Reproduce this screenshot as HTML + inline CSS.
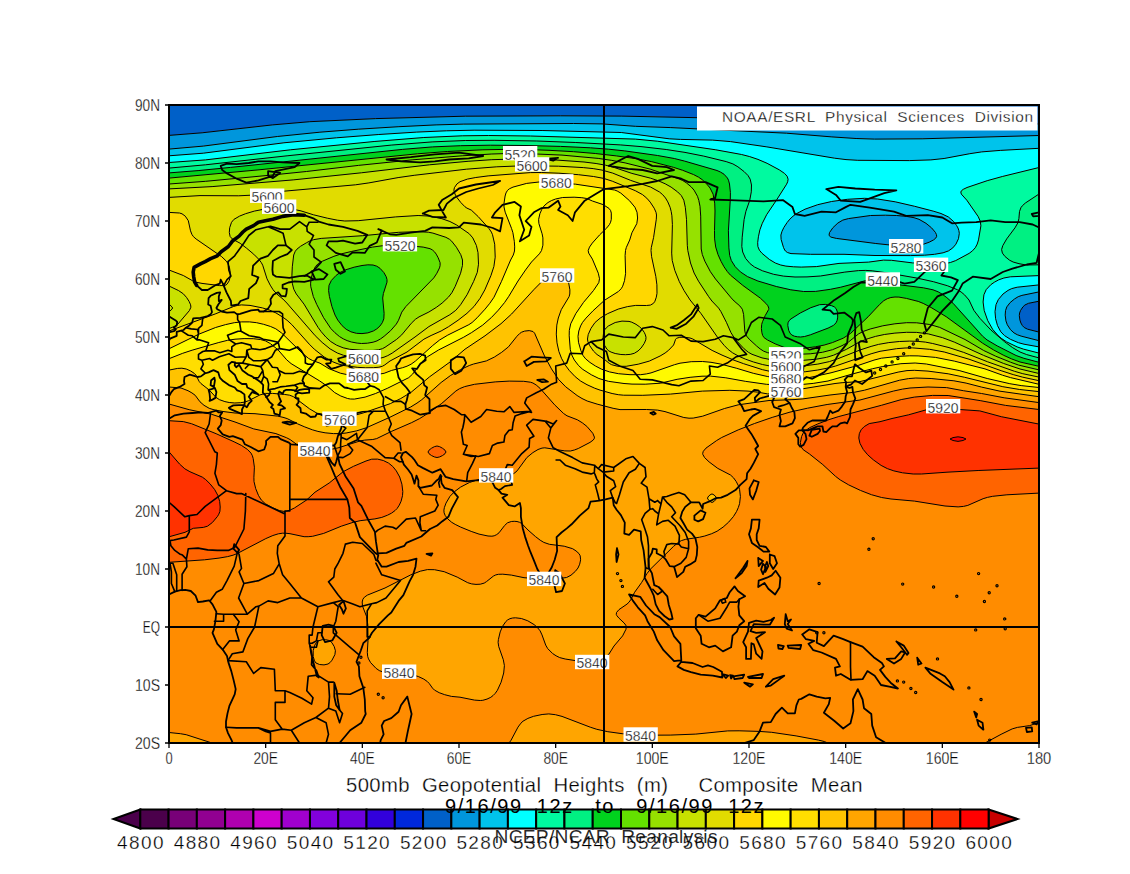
<!DOCTYPE html>
<html><head><meta charset="utf-8"><style>
html,body{margin:0;padding:0;background:#fff;width:1130px;height:874px;overflow:hidden}
svg{display:block}
text{font-family:"Liberation Sans",sans-serif;fill:#000}
.t{stroke:#fff;stroke-width:0.3px}
.t2{fill-opacity:0.85}
</style></head><body>
<svg width="1130" height="874" viewBox="0 0 1130 874">
<rect x="169" y="105" width="870" height="638" fill="rgb(255,140,0)"/>
<path fill="rgb(0,96,200)" fill-rule="evenodd" d="M1039,124 1039,105 169,105 169,135.4 202.1,132.8 272.5,124.9 309.8,121.7 375.7,118.6 465.3,116.2 560.6,115.8 621.2,116.1 702.4,117.8 823.7,119.4ZM1039,332.1 1039,301.2 1028.5,303.3 1024.9,305 1022.9,306.9 1020.6,310.4 1019.6,313 1019.3,315.6 1019.9,320 1020.9,323 1022.4,325.6 1024.2,327.5 1027.6,329.2Z"/>
<path fill="rgb(0,150,220)" fill-rule="evenodd" d="M1039,135.5 1039,124 823.7,119.4 702.4,117.8 621.2,116.1 557.6,115.8 459.3,116.3 372.5,118.7 308.3,121.8 272.5,124.9 202.1,132.8 169,135.4 169,149.1 203.3,146.1 277.3,136.5 319.9,132.2 358.3,129.2 398.9,126.7 436.1,124.9 463.8,124.1 573.4,123.5 602,123.9 635.4,126.3 670.8,127.6 786.5,133.2 831.8,136.9 856.1,138.5 874.5,139.1 922.1,138.8ZM1039,301.2 1039,291.9 1024.6,294.7 1019.4,296.2 1013.4,299.7 1009.1,303.6 1006.8,306.9 1005.9,309.4 1005.2,313.6 1005.4,318 1006.3,322.1 1008,326.1 1010.5,329.7 1012.7,331.9 1016.1,334.1 1019.7,335.7 1039,340.7 1039,332.1 1029,329.6 1024.2,327.5 1022.4,325.6 1020.9,323 1019.9,320 1019.3,315.6 1019.6,313 1020.6,310.4 1022.9,306.9 1024.9,305 1028.5,303.3ZM829,235.4 830.9,237.1 836.3,238.4 875.8,243.5 894.8,245.5 904.7,246 916.5,245.5 923.3,244.3 929.2,242.2 933.6,239.9 935.7,238.2 936.7,236.3 936.4,234.5 935.4,232.4 931.5,227.8 926,223.3 919,219.3 914,217.7 906.5,216.4 896.7,215.5 885.4,215.2 870.5,215.5 848.4,218.6 842.8,220.1 837.9,223 832.9,227.7 829.5,232.6Z"/>
<path fill="rgb(0,195,235)" fill-rule="evenodd" d="M1039,148.3 1039,135.5 922.1,138.8 874.5,139.1 856.1,138.5 831.8,136.9 786.5,133.2 670.8,127.6 635.4,126.3 602,123.9 573.4,123.5 472.7,124 438.7,124.7 389.7,127.2 338.1,130.7 293.6,134.6 266,137.9 205.5,145.9 169,149.1 169,155.8 203.3,153.2 283.9,142.8 336.5,137.8 378.8,134.5 416.7,132.1 446.6,130.8 474.1,130.2 542.1,130.5 621.3,132.5 669.2,138.8 680.4,139.4 712.6,140.1 730.5,141.6 766.9,146.9 834.6,158.2 846,159.6 857.8,160.3 909.4,160.6 930.9,159.9 944.1,158.5 969.8,153.7 981.7,151.9 1000.3,150.4ZM1039,291.9 1039,284.9 1020.1,286.8 1014.3,287.8 1009.4,289.6 1004.2,293 1000,297.3 997,302 995.7,306 995.1,310.2 995.2,316 996.6,322.8 998.6,328.2 1001.6,332.9 1004.5,335.6 1010.4,339.3 1018.4,342.7 1024,344.2 1039,346.9 1039,340.7 1019.7,335.7 1015,333.5 1011.6,330.8 1008.7,327.3 1006.8,323.4 1005.6,319.4 1005.2,315.1 1005.5,310.7 1006.8,306.9 1010.1,302.6 1014.6,298.9 1018.2,296.7 1021.9,295.4ZM780.9,235 781.1,239.4 783.5,247.5 784.7,250 785.5,251.1 787.4,252.5 791,253.6 810.6,254.3 844,254.3 875,255.5 910.3,255.6 924.6,255.2 934.5,254.3 943.1,252.8 948.5,250.9 952.8,247.9 955.9,244.2 958.5,238.7 959.3,233.3 958.9,230.7 958,228 956.5,225.4 953.7,221.6 948.3,216.9 941,213.5 933.9,211.3 914.7,206.3 895.2,201.8 877.6,199 864.4,198.3 847.4,199.3 831.5,201.5 817.7,204.7 805,209.2 796.6,213.6 793,216.2 789.9,219.1 787.2,222.4 783.9,227.4 782,231.3ZM829,235.4 829.5,232.6 832.9,227.7 837.9,223 842.8,220.1 848.4,218.6 870.5,215.5 885.4,215.2 896.7,215.5 906.5,216.4 914,217.7 919,219.3 926,223.3 931.5,227.8 935.4,232.4 936.4,234.5 936.7,236.3 935.7,238.2 933.6,239.9 929.2,242.2 923.3,244.3 916.5,245.5 904.7,246 894.8,245.5 875.8,243.5 836.3,238.4 830.9,237.1Z"/>
<path fill="rgb(0,255,255)" fill-rule="evenodd" d="M1039,167.5 1039,148.3 1000.3,150.4 981.7,151.9 969.8,153.7 944.1,158.5 930.9,159.9 909.4,160.6 856.4,160.2 846,159.6 834.6,158.2 765.4,146.6 739.3,142.8 723,140.9 709.6,140 670.8,138.9 655.8,137.3 626.9,133.1 618.5,132.3 535.6,130.5 485.6,130.1 456.2,130.5 423.8,131.7 381.9,134.3 339.6,137.5 298.4,141.3 270.8,144.4 205.5,152.9 169,155.8 169,162.5 186.9,161.4 212.8,159.1 295.2,149.3 380.4,141 434.8,136.9 456.2,136 478.5,135.6 538.4,136.1 638.2,139.3 661.7,141.9 708.7,148.7 731.8,152.5 747,155.8 762,160.9 768.4,163.9 779.4,169.9 784.5,173.4 787.1,176.2 788.1,179.2 787.7,181.7 786.6,184.2 777,199.3 766.7,214.6 762.3,223.3 760.3,228.5 758.7,235.4 757.8,241.2 757.7,245.3 758.7,249 761,252.3 768.2,258.6 774,262.4 779.5,264.7 784.5,265.9 791.9,266.7 799.7,267 816.4,266.6 839,263.4 868.7,262.1 883.5,260.1 891.5,260.3 912.5,262.9 935.2,264 946.2,263.4 950.4,262.5 955.7,260.6 969.1,253.4 972.5,250.8 975.3,247.7 977.2,244.1 978.5,239.9 980.9,225.8 980.3,221.3 978.2,216.6 966.8,200.2 961.3,194.1 960.8,192 961.6,190.6 963.3,189.3 967,187.5 987.2,180.7 1002.3,176.5ZM780.9,235 782,231.3 783.9,227.4 787.2,222.4 789.9,219.1 793,216.2 796.6,213.6 805,209.2 817.7,204.7 831.5,201.5 847.4,199.3 864.4,198.3 877.6,199 895.2,201.8 914.7,206.3 933.9,211.3 941,213.5 948.3,216.9 953.7,221.6 956.5,225.4 958,228 958.9,230.7 959.3,233.3 958.5,238.7 955.9,244.2 952.8,247.9 948.5,250.9 943.1,252.8 934.5,254.3 924.6,255.2 910.3,255.6 875,255.5 844,254.3 810.6,254.3 791,253.6 787.4,252.5 785.5,251.1 784.7,250 783.5,247.5 781.1,239.4ZM1039,284.9 1039,275.6 1013.2,276.6 1007.6,277.2 1002.7,278.3 997.2,280.6 993.1,283 989.7,285.7 986.9,288.6 984.8,292.1 983.9,294.8 983.1,302 984.2,310.5 987.7,320.5 992.7,329.4 998.5,336 1001.7,338.6 1006.5,341.8 1017.1,346.9 1023.7,349.2 1039,353.1 1039,346.9 1024,344.2 1018.4,342.7 1009.2,338.6 1003.4,334.8 1000,330.7 997.5,325.6 995.6,318.7 995,311.7 996,304.6 998.3,299.6 1003,294 1008,290.4 1011.7,288.6 1017.2,287.2Z"/>
<path fill="rgb(0,250,160)" fill-rule="evenodd" d="M1039,194 1039,167.5 988.4,180.3 968.5,187 962.4,190 960.8,192 961.3,194.1 966.8,200.2 975.7,212.7 979.5,219.1 980.3,221.3 980.9,224.4 980.1,231.5 978.9,238.4 977.7,242.7 976,246.6 973.5,249.8 970.3,252.6 965.4,255.6 958.2,259.5 951.8,262.1 943.7,263.7 932.2,264 911,262.8 891.5,260.3 885,260 868.7,262.1 839,263.4 814.9,266.8 796.6,267 788.8,266.5 783.2,265.6 778,264.2 774,262.4 768.2,258.6 761,252.3 758.7,249 757.7,245.3 757.8,241.2 758.7,235.4 760.3,228.5 762.3,223.3 766.7,214.6 777,199.3 786.6,184.2 787.7,181.7 788.1,179.2 787.1,176.2 784.5,173.4 779.4,169.9 767.1,163.3 758,159.4 749.7,156.6 741.6,154.5 717.2,150 657.3,141.2 635.4,139.1 530.6,136 488.4,135.5 462.3,135.8 423.8,137.5 374.1,141.5 290.4,149.8 205.5,159.9 169,162.5 169,168.1 205.5,164.8 288.7,155.7 395.8,144.7 437.4,141.5 475.6,140.3 506.9,140.4 544.6,141.2 583.1,142.8 624.5,145.1 645.4,147 669.2,149.9 688.1,153 706.7,156.8 727.6,162 734.2,164.6 740.4,168.6 745.2,172.6 748,175.5 750.2,179.2 751.5,185 751.3,191.8 749.7,200.5 745.9,211.3 744.1,219.6 742.2,237.2 741.8,246.5 742.7,252 745.6,258.4 750.1,263.7 754.5,267 762.5,270.8 773.6,274.3 783.4,276.1 795,277 807,276.9 820.5,276 844.8,272.1 858.5,270.6 865.8,270.4 872.2,270.8 888,273 917.6,278.2 933.4,281.7 947.3,285.7 957.6,289.8 961.1,292 964.5,294.8 969,300 973.9,310.4 979.9,318.3 991,330.1 1004.4,341.6 1012.7,347.7 1020,352 1026.7,354.6 1039,357.9 1039,353.1 1023.7,349.2 1015.8,346.3 1005.3,341 1000.6,337.8 997.4,335 991.9,328.1 987.1,319.2 984.2,310.5 983.1,302 983.9,294.8 986.2,289.6 990.8,284.7 994.4,282.2 998.6,279.9 1003.9,278 1010.4,276.8 1039,275.6 1039,264.8 1026.3,265 1019,263.7 1013.1,262 1009.4,260.1 1004.9,256.4 1002.4,253.1 1001.6,249.5 1002.8,245.6 1006.7,238.9 1015,227.8 1017.9,222.8 1018.9,218.6 1019.5,211.6 1020.9,207.7 1022.4,205.7 1025.4,203Z"/>
<path fill="rgb(0,240,130)" fill-rule="evenodd" d="M1039,264.8 1039,194 1025.4,203 1022.4,205.7 1020.9,207.7 1019.5,211.6 1018.9,218.6 1017.9,222.8 1015,227.8 1006.7,238.9 1002.8,245.6 1001.6,249.5 1002.4,253.1 1004.9,256.4 1009.4,260.1 1013.1,262 1019,263.7 1026.3,265ZM1039,362.3 1039,357.9 1025.4,354.2 1018.8,351.4 1010.3,346 997.7,336.1 988,327.1 978,316 973.1,309.1 969.8,301.2 965.5,295.8 962.3,292.9 958.7,290.5 954.1,288.2 948.7,286.2 934.7,282 919.1,278.5 889.5,273.2 872.2,270.8 865.8,270.4 858.5,270.6 844.8,272.1 820.5,276 807,276.9 795,277 783.4,276.1 773.6,274.3 762.5,270.8 754.5,267 750.1,263.7 745.6,258.4 742.7,252 741.8,246.5 742.2,237.2 744.1,219.6 745.9,211.3 749.7,200.5 751.3,191.8 751.5,185 750.2,179.2 748,175.5 745.2,172.6 740.4,168.6 734.2,164.6 727.6,162 706.7,156.8 688.1,153 669.2,149.9 645.4,147 623.1,145.1 578.7,142.6 538.4,141 495.5,140.3 465.3,140.5 432.1,141.9 391.2,145.1 287.1,155.8 205.5,164.8 169,168.1 169,172.9 196.4,170.7 229,167.6 352.4,154.4 406.8,148.9 438.5,146.6 471.1,145.4 500.7,145.2 533.7,145.6 565.2,146.6 593.1,148 610.3,149.3 626.2,151.1 657.6,155.5 674.3,158.5 684.6,161.1 717,170.5 720.4,172 724,174.2 727.4,178 728.5,180.2 729.5,184 730.4,192.4 730.3,199.4 728.4,230.8 728.9,247.9 729.7,255.4 731.3,260.5 735.2,266.7 740.4,271.9 747.5,276.6 757.9,281 776.3,286.5 790.8,289.8 803.6,291.5 815.7,291.4 830.4,289.3 840.8,287.2 865.8,280.6 870,280 878.8,280.8 901,285 923.4,287.8 933,289.8 938.1,291.8 942.1,294.1 946.9,297.7 953,303.2 982.6,336.2 987,339.9 997.2,345.9 1016.1,355.5 1023.9,358.3ZM788,322.8 787.8,325.5 788.7,330.3 790,333.1 791.8,335 794.4,336.2 797.4,336.8 800.7,337 804.6,336.5 810.4,334.8 828.1,328.1 833.4,325.4 836.1,322.8 837.2,320.2 837.7,317.1 837.5,312.3 836.1,308.6 834.3,306.9 831.7,305.7 825.3,304.4 819.6,304.7 810.8,307.7 800.3,313 791,318.9 789.1,320.7Z"/>
<path fill="rgb(0,210,30)" fill-rule="evenodd" d="M1039,366.3 1039,362.3 1023.9,358.3 1016.1,355.5 995.9,345.2 986,339.2 981.6,335.1 977,329.6 953,303.2 946.9,297.7 942.1,294.1 938.1,291.8 933,289.8 923.4,287.8 901,285 878.8,280.8 870,280 865.8,280.6 840.8,287.2 830.4,289.3 815.7,291.4 803.6,291.5 790.8,289.8 774.9,286.1 756.5,280.5 751.2,278.4 746.3,276 740.4,271.9 735.2,266.7 731.3,260.5 729.7,255.4 728.9,247.9 728.4,230.8 730.3,199.4 730.4,192.4 729.5,184 728.5,180.2 727.4,178 724,174.2 720.4,172 717,170.5 684.6,161.1 674.3,158.5 657.6,155.5 624.8,150.9 608.7,149.2 590.4,147.8 560.5,146.4 526,145.5 490.3,145.2 460.7,145.7 432.5,146.9 402.3,149.4 230.6,167.4 198.1,170.6 169,172.9 169,178.1 255.5,170.2 419,153.6 456.3,151 493.3,149.5 514,149.3 533.6,149.7 556.8,150.7 579.6,152.2 600.7,154.1 620.9,156.5 638.4,159.1 653.1,162 675.1,167.8 683.9,170.8 694.9,175.2 699.8,177.9 704.3,181.5 708.4,185.8 710.8,189.2 712.1,191.7 713.5,195.5 714.8,204.2 715,211 714.5,237.6 715.7,247 717.5,253.3 720.3,259.9 723.2,265.4 726.5,270.5 729.3,274 733.7,278.2 742.8,285.4 760.3,298.1 765.9,303.4 767.9,305.8 768.8,308.2 768.7,309.4 765.2,315.6 762.5,321.7 761.7,324.3 761.4,328.4 761.9,332.8 762.7,335.5 764.1,337.7 767.7,340.1 775.1,343.8 783.7,347.2 789,348.8 793,349.2 799.9,348.8 815.3,346.8 824.1,345.1 832.4,342.6 843.2,338.2 850.5,333.5 868.1,316.8 879.7,304.4 883.8,300.7 887.3,298.7 890.9,297.5 895,297 898.9,297.1 906.4,298.4 918.2,301.4 923.2,303.4 931.1,307.5 946.2,316.7 982.6,343.2 993.7,350 1003.8,355.4 1011.8,359 1020,362ZM788,322.8 789.1,320.7 791,318.9 800.3,313 810.8,307.7 819.6,304.7 825.3,304.4 831.7,305.7 834.3,306.9 836.1,308.6 837.5,312.3 837.7,317.1 837.2,320.2 836.1,322.8 833.4,325.4 828.1,328.1 810.4,334.8 804.6,336.5 800.7,337 797.4,336.8 794.4,336.2 791.8,335 790,333.1 788.7,330.3 787.8,325.5ZM346,269.7 340.5,272.2 336.1,275.4 331.4,280.4 329,285.3 328.6,290.6 329.4,296.4 331.9,306.5 335,315 337.7,320 342.1,325.7 346.2,329.3 350.9,331.8 356.4,333.3 362,333.6 367.8,332.9 373.3,331 376.8,328.9 379.9,326.1 382.3,322.7 383.8,318.9 384.1,313.4 382.7,298 383.4,293.5 387,282.1 387,279.6 386.2,276.7 383.9,272.6 380,268.3 376.8,266.2 373,265 367.9,264.8 362,265.5 354.1,267.2Z"/>
<path fill="rgb(100,225,0)" fill-rule="evenodd" d="M1039,369.9 1039,366.3 1024.2,363.2 1015.8,360.6 1005,356 992.4,349.3 978,340.1 943.9,315.2 927,305.3 921,302.4 917,301 904.9,298.1 898.9,297.1 895,297 890.9,297.5 887.3,298.7 883.8,300.7 879.7,304.4 868.1,316.8 850.5,333.5 843.2,338.2 832.4,342.6 824.1,345.1 815.3,346.8 799.9,348.8 793,349.2 789,348.8 783.7,347.2 775.1,343.8 767.7,340.1 764.1,337.7 762.7,335.5 761.9,332.8 761.4,328.4 761.7,324.3 762.5,321.7 765.2,315.6 768.7,309.4 768.8,308.2 767.9,305.8 765.9,303.4 760.3,298.1 742.8,285.4 733.7,278.2 729.3,274 726.5,270.5 723.2,265.4 720.3,259.9 717.5,253.3 715.7,247 714.5,237.6 715,211 714.8,204.2 713.5,195.5 712.1,191.7 710.8,189.2 708.4,185.8 704.3,181.5 699.8,177.9 694.9,175.2 683.9,170.8 675.1,167.8 653.1,162 637,158.9 617.9,156.1 596.6,153.7 573.6,151.7 549,150.3 526,149.5 505.1,149.4 482.9,149.8 447.4,151.5 417.4,153.8 257.1,170 169,178.1 169,184 191.4,182.5 287.4,173.5 356.9,165.5 412.9,159.8 468.1,155.4 500.7,153.7 532.1,153.6 569.7,155.6 602,158.9 614.9,160.9 627.9,163.5 651.6,169.6 680.2,179.4 685,181.9 688.7,184.7 692,187.8 694.8,191.3 698,197.6 700,206.3 700.7,216.1 701.2,249 702.3,254.5 704.8,261.1 710.4,271.7 715.5,279 731.2,297.9 734.1,301 739.8,305.9 742.3,309.2 743.6,314.4 744.8,331.1 745.4,333.6 746.5,336 749.2,339.2 756.6,346 760.1,348.9 763.7,351.2 767.7,352.7 771.6,353.4 786,353.6 798.5,354.3 810.2,353.8 822.4,352.3 832.5,349.7 842,345.7 848.3,342.2 858.7,333.8 863.6,331.3 870.2,329 882.8,325.8 894.9,323.8 906.6,322.7 916.7,322.8 929.8,324.5 939.7,327.4 965,339.5 983.7,350.5 995.7,356.2 1010.5,362.2 1018.6,365.1ZM382.8,245.7 372.4,247.1 351.2,251.5 341.6,253.8 333.9,256.3 322.2,261.3 318.3,263.5 315.4,266.6 312.8,272 310.9,279.6 310.6,283.9 310.8,286.8 313.3,296.5 316.8,304.6 323.6,317.7 330.8,328.5 334.9,332.7 339.4,336.5 343.2,338.8 347.1,340.6 351.4,342 357.2,343.1 361.5,343.5 367.4,343.2 373.1,342.2 377,340.9 380.7,338.8 384.1,336.3 390.6,330.7 396.3,324.1 398.5,320.3 401.8,312.1 405.8,306.6 433.8,277.9 436.9,273.2 439.5,267.9 440.1,265.5 440.1,262.7 438.2,257.8 436.2,254.1 434.4,251.7 432.3,249.9 430.1,248.7 423.2,247.1 408.7,245.7 394.7,245.3ZM346,269.7 354.1,267.2 362,265.5 367.9,264.8 373,265 376.8,266.2 380,268.3 383.9,272.6 386.2,276.7 387,279.6 387,282.1 383.4,293.5 382.7,298 384.1,313.4 383.8,318.9 382.3,322.7 379.9,326.1 376.8,328.9 373.3,331 367.8,332.9 362,333.6 356.4,333.3 350.9,331.8 346.2,329.3 342.1,325.7 337.7,320 335,315 331.9,306.5 329.4,296.4 328.6,290.6 329,285.3 331.4,280.4 336.1,275.4 340.5,272.2Z"/>
<path fill="rgb(150,225,0)" fill-rule="evenodd" d="M1039,373.5 1039,369.9 1018.6,365.1 1010.5,362.2 995.7,356.2 983.7,350.5 965,339.5 941,327.9 931.2,324.8 918.1,322.9 908.1,322.7 894.9,323.8 882.8,325.8 870.2,329 863.6,331.3 858.7,333.8 848.3,342.2 842,345.7 832.5,349.7 822.4,352.3 810.2,353.8 798.5,354.3 786,353.6 771.6,353.4 767.7,352.7 763.7,351.2 760.1,348.9 756.6,346 749.2,339.2 746.5,336 745.4,333.6 744.8,331.1 743.6,314.4 742.3,309.2 739.8,305.9 734.1,301 731.2,297.9 715.5,279 710.4,271.7 704.8,261.1 702.3,254.5 701.2,249 700.7,216.1 700,206.3 698,197.6 694.8,191.3 692,187.8 688.7,184.7 685,181.9 680.2,179.4 650.1,169.1 626.5,163.2 613.4,160.6 599.5,158.6 581.7,156.6 562,155.1 524.5,153.5 508.1,153.5 491.8,154 462.2,155.8 412.9,159.8 358.4,165.4 306.4,171.5 270.2,175.2 205.7,181.3 169,184 169,188.9 194.6,187.7 219,186.1 271.9,181.8 315.5,177.8 364.2,172.5 434,164.4 474,160.9 499.2,159.3 526,158.9 557.9,160 585.5,162.2 605.5,165.2 614.6,167.6 631.9,173.4 650.6,178.2 658.4,180.8 665.2,183.8 671.1,187.1 677.6,191.9 681.3,195.6 683.8,200.2 685.3,207.3 686.5,219.3 687.3,245.3 687.8,250.5 690.5,263 694.1,273 698.5,281.2 708.7,296.7 711.9,301 718.6,308.1 720.8,311.4 726.4,322.3 730.9,332.5 733.9,337.3 737.5,341.8 744.1,348.8 748.4,352.3 752,354.3 762,357.9 772.1,359.9 800,360.6 816.3,359.2 826.7,357.3 833.6,355.2 846.3,349.4 860,341.7 868.2,338.6 875.5,336.4 884.3,334.5 894.9,333.1 906.6,332.3 916.7,332.4 928.3,333.9 942.4,337.6 954.3,342.1 983.6,355.4 1003.7,363.5 1020,369ZM310,240.9 300.5,246.3 297,249.1 295.3,251.2 293.7,255 292.3,266.8 291.9,275.7 292.4,283.8 293.8,289.3 296.3,294 304,304.1 318,327.3 321.2,331.7 325.8,337 330.8,341.6 336.6,345.2 343.1,347.8 349.8,349.3 364.5,350.4 373.1,350.4 378.5,349.8 382.4,348.7 385,347.3 396.6,339.4 401.7,334.9 411.3,323.3 415.4,319.3 419,316.9 428.9,312 436.3,307.4 442.1,303.1 448.4,297.2 451.9,292.7 455.2,286.4 460.6,273.2 462.5,265.3 462.5,260 460.8,254.7 456.4,247.2 451.6,241.1 449.5,239.3 445.9,237.3 432.9,233.1 428.3,232.2 417.4,231.7 398.6,232.3 362.7,235.7 321.2,238.4 313.5,239.7ZM382.8,245.7 394.7,245.3 408.7,245.7 423.2,247.1 430.1,248.7 432.3,249.9 434.4,251.7 436.2,254.1 438.2,257.8 440.1,262.7 440.1,265.5 439.5,267.9 436.9,273.2 433.8,277.9 405.8,306.6 401.8,312.1 398.5,320.3 396.3,324.1 390.6,330.7 384.1,336.3 380.7,338.8 377,340.9 373.1,342.2 367.4,343.2 361.5,343.5 357.2,343.1 351.4,342 347.1,340.6 343.2,338.8 339.4,336.5 334.9,332.7 330.8,328.5 323.6,317.7 316.8,304.6 313.3,296.5 310.8,286.8 310.6,283.9 310.9,279.6 312.8,272 315.4,266.6 318.3,263.5 322.2,261.3 333.9,256.3 341.6,253.8 351.2,251.5 372.4,247.1Z"/>
<path fill="rgb(200,225,0)" fill-rule="evenodd" d="M1039,377.1 1039,373.5 1020,369 1003.7,363.5 985,356 957,343.3 946.4,339 938.3,336.4 931.2,334.6 918.1,332.5 908.1,332.3 896.5,333 884.3,334.5 875.5,336.4 868.2,338.6 860,341.7 846.3,349.4 833.6,355.2 826.7,357.3 816.3,359.2 800,360.6 772.1,359.9 762,357.9 752,354.3 748.4,352.3 744.1,348.8 737.5,341.8 733.9,337.3 730.9,332.5 726.4,322.3 720.8,311.4 718.6,308.1 711.9,301 708.7,296.7 698.5,281.2 694.1,273 690.5,263 687.8,250.5 687.3,245.3 686.5,219.3 685.3,207.3 683.8,200.2 681.3,195.6 677.6,191.9 671.1,187.1 665.2,183.8 658.4,180.8 650.6,178.2 631.9,173.4 614.6,167.6 605.5,165.2 596.1,163.5 584,162 553.1,159.8 518.5,158.9 491.8,159.7 468.1,161.3 429.5,164.8 361.4,172.8 293.2,179.9 212.1,186.6 169,188.9 169,197.4 201.3,195.6 247.3,195.5 259.7,194.5 284,191.2 355.6,184.8 368.9,182.9 396.6,177.8 411.3,175.7 463.5,169.5 486.8,167.5 519.1,165.8 550.7,166 580.4,167.3 591.9,168.5 602,170.1 612.7,173.1 630.7,180.4 650.7,187.1 659.5,192 662.7,194.7 665.5,198 667.8,201.9 670.1,207.3 671.2,211.5 671.9,215.8 672.4,224.6 671.7,253.1 672.2,260.4 674.8,270.4 679.3,281.6 684,290.5 690.1,300 701.1,313.7 717.6,337.4 724.1,345.3 728.2,349.5 732.7,352.9 738.7,356.2 745.3,359.1 753.5,362 762.4,364.5 769.3,365.9 776.5,366.4 803,366 817.8,364.1 829.4,361.6 837.4,358.9 860,350 871.1,346.4 878.5,344.4 888.8,342.6 899.4,341.5 909.6,341.1 918.1,341.4 925.4,342.1 932.7,343.5 949,347.6 963.7,352.4 987.6,361.8 1014.5,371.3 1022.8,373.7ZM169,312 169,328.6 174.4,326.4 177.9,324.1 189.4,310.6 190.9,307.2 190.6,304.8 189.1,301.4 186.5,297.4 183.3,293.8 178.6,290.6 169,286 169,304 172.1,307 172.5,308 172.1,309ZM169,304 169,312 172.1,309 172.5,308 172.1,307ZM262,209.6 254.3,211.1 245.6,213.7 239.6,216.1 233.9,219.4 231.5,222.3 229.7,227.7 229.3,232.5 230.1,236.5 232.5,239.1 240.2,243.3 246.7,248.3 253.7,254.2 258.9,259.4 261.3,262.6 262.7,265.2 267,278.8 270.2,285.1 273.1,289.8 276.7,293.9 283,299.1 286.8,303 315.2,335.7 322.1,342.4 330.1,348.9 337.3,353 343.5,355.3 350.1,356.7 359,357.8 368.7,358.5 376.2,358.5 381,358 384,357.2 387.8,355.6 392.2,353.1 415,337 428.9,326.6 449.9,314.7 455.8,310.3 460.6,304.7 467.1,294.7 473.6,281.5 477.3,272.3 478.5,264.2 478,252.6 476.4,245.5 472.8,237.9 469.2,233.7 456.3,224.8 449.9,221.5 441.9,218.7 429.8,216.1 418.1,215.5 395.7,216.9 358.2,220.7 344.8,221 337.5,220.2 327.4,218.2 313.5,214.8 301,210.9 295,209.6 288,208.9 278.7,208.6 269.3,208.8ZM300.5,246.3 310,240.9 313.5,239.7 321.2,238.4 362.7,235.7 398.6,232.3 417.4,231.7 428.3,232.2 432.9,233.1 445.9,237.3 449.5,239.3 451.6,241.1 456.4,247.2 460.8,254.7 462.5,260 462.5,265.3 460.6,273.2 455.2,286.4 451.9,292.7 448.4,297.2 442.1,303.1 436.3,307.4 428.9,312 419,316.9 415.4,319.3 411.3,323.3 401.7,334.9 396.6,339.4 385,347.3 382.4,348.7 378.5,349.8 373.1,350.4 364.5,350.4 349.8,349.3 343.1,347.8 336.6,345.2 330.8,341.6 325.8,337 321.2,331.7 318,327.3 304,304.1 296.3,294 293.8,289.3 292.4,283.8 291.9,275.7 292.3,266.8 293.7,255 295.3,251.2 297,249.1ZM604.6,329.9 603.6,332.6 603.1,337.2 603.5,341.6 604.7,345.6 606.9,349.1 608.8,350.9 611.1,352.1 615.2,353.5 620.9,354.5 625.5,354.7 630.2,354.4 634.3,353.3 638,351 641.1,348 644.2,343.5 645.8,339.8 646,337.3 645.4,334.9 644.2,332.3 641.7,328.8 639.7,326.9 636,324.3 631.8,322.2 629,321.4 622,321.1 615.2,322.5 608.5,325.9 606.3,327.8Z"/>
<path fill="rgb(225,220,0)" fill-rule="evenodd" d="M1039,380.7 1039,377.1 1022.8,373.7 1014.5,371.3 988.9,362.3 969,354.4 955.7,349.7 937,344.4 926.8,342.4 919.6,341.5 911.1,341.1 900.9,341.4 890.3,342.4 880,344.1 871.1,346.4 860,350 837.4,358.9 829.4,361.6 817.8,364.1 803,366 776.5,366.4 769.3,365.9 762.4,364.5 753.5,362 745.3,359.1 738.7,356.2 732.7,352.9 728.2,349.5 724.1,345.3 717.6,337.4 701.1,313.7 690.1,300 684,290.5 679.3,281.6 674.8,270.4 672.2,260.4 671.7,253.1 672.4,224.6 671.9,215.8 671.2,211.5 670.1,207.3 667.8,201.9 665.5,198 662.7,194.7 659.5,192 650.7,187.1 630.7,180.4 612.7,173.1 602,170.1 593.2,168.6 583.3,167.6 558.5,166.2 525.2,165.7 496.8,166.8 466.4,169.2 414.2,175.3 398.1,177.6 368.9,182.9 355.6,184.8 284,191.2 254.9,195 238.7,195.8 200,195.6 169,197.4 169,212.4 179.5,213 182,213.8 185.3,216.2 188.3,220.7 190.5,230.8 191.9,234.4 193.3,236.5 196.1,239 221.6,256.6 224.5,259.1 227.2,262.3 229,266 229.9,269.8 230.3,274.1 229.7,279.4 227.9,283.2 227,284.2 225,285.4 221.2,285.7 203.5,283.6 196.5,282.3 192.7,280.8 183.3,275.5 169,270 169,286 178.6,290.6 183.3,293.8 186.5,297.4 189.1,301.4 190.6,304.8 190.9,307.2 189.4,310.6 178.9,323.2 175.7,325.8 169,328.6 169,331 215.9,313.7 233.5,306.5 237.5,305.4 241.5,304.9 250,305.4 262.4,307.9 269.3,310 275.9,312.9 283,317.3 287.1,320.3 291.8,324.6 309.3,344.2 314.3,349.2 324.2,357 332.8,361.8 338,363.9 343.9,365.5 357.2,367.3 365.6,367.8 373.5,367.7 378.9,367.2 382.5,366.2 384.8,364.9 390,361 407,352 423.9,339.2 431.1,335.5 441.1,331 448.4,326.8 458,320.3 467,313.3 474,306.5 480,298.4 484.8,289.9 490.9,275.7 493.9,266.5 495.2,257.2 494.7,244.2 492.5,234.7 491.4,232.1 489.1,228.7 478.2,216.6 471.3,210.1 466.9,208.1 464.9,206.7 460.8,202.5 457,197.6 455,194.1 453.9,190.2 454.4,187.7 456.9,184 460,181.7 467.4,179.1 475.8,177.5 488.1,175.9 530.3,172.6 541.3,172.5 558.9,173.2 578.5,174.7 593.5,176.5 603.7,178.4 612.3,181.2 635.3,190.7 642.5,194.6 646.8,198.2 650.2,202.1 654.2,208.2 656,212.3 656.5,215 656.3,219.2 653.6,237.4 651.3,247.5 651,250.5 651.6,256.7 655.8,276.4 656.9,284.8 657,293.3 656.3,297.2 654.9,301.3 653.4,303.4 650.4,305.1 646.4,305.5 635.7,305.4 627.5,306.6 618.2,309.1 607.5,313.7 600.3,318 595,322.5 591,328.3 588.2,334.6 587.5,339 587.9,341.7 589.7,345.6 593.4,351 597,354.5 604.2,359.2 609.3,363.4 611.6,364.7 617.8,366.3 626.2,366.3 638.2,364.2 649.3,361.1 660.1,356 665.1,353 668.7,350.2 673.6,345 675.6,339.3 676.5,338.3 679.8,337.3 684.3,337.2 690,338 692.8,339 712.1,350.4 722,355.1 734,360.2 743.6,363.7 762.5,369.7 772,371.8 781.8,372.4 797.1,372.4 805.8,371.7 817.8,370 828,368 835.4,366.1 871.1,353.8 880,351.3 896.5,348.7 905,348 912.5,347.9 929.7,349.3 944.3,352 969,359.2 1001.1,370.7 1013.2,374.6 1022.8,377.2ZM262,209.6 269.3,208.8 278.7,208.6 288,208.9 295,209.6 301,210.9 313.5,214.8 327.4,218.2 337.5,220.2 344.8,221 358.2,220.7 395.7,216.9 418.1,215.5 429.8,216.1 441.9,218.7 449.9,221.5 456.3,224.8 469.2,233.7 472.8,237.9 476.4,245.5 478,252.6 478.5,264.2 477.3,272.3 473.6,281.5 467.1,294.7 460.6,304.7 455.8,310.3 449.9,314.7 428.9,326.6 415,337 392.2,353.1 387.8,355.6 384,357.2 381,358 376.2,358.5 368.7,358.5 359,357.8 350.1,356.7 343.5,355.3 337.3,353 330.1,348.9 322.1,342.4 315.2,335.7 286.8,303 283,299.1 276.7,293.9 273.1,289.8 270.2,285.1 267,278.8 262.7,265.2 261.3,262.6 258.9,259.4 253.7,254.2 246.7,248.3 240.2,243.3 232.5,239.1 230.1,236.5 229.3,232.5 229.7,227.7 231.5,222.3 233.9,219.4 239.6,216.1 245.6,213.7 254.3,211.1ZM604.6,329.9 606.3,327.8 608.5,325.9 615.2,322.5 622,321.1 629,321.4 631.8,322.2 636,324.3 639.7,326.9 641.7,328.8 644.2,332.3 645.4,334.9 646,337.3 645.8,339.8 644.2,343.5 641.1,348 638,351 634.3,353.3 630.2,354.4 625.5,354.7 620.9,354.5 615.2,353.5 611.1,352.1 608.8,350.9 606.9,349.1 604.7,345.6 603.5,341.6 603.1,337.2 603.6,332.6Z"/>
<path fill="rgb(255,215,0)" fill-rule="evenodd" d="M1039,384.3 1039,380.7 1022.8,377.2 1011.8,374.2 999.8,370.2 971.7,360.1 959.7,356.3 937,350.4 926.8,348.9 915.3,348 908.1,347.9 899.4,348.4 888.8,349.7 880,351.3 871.1,353.8 835.4,366.1 826.7,368.3 816.3,370.2 804.4,371.9 795.7,372.5 780.4,372.4 772,371.8 762.5,369.7 743.6,363.7 734,360.2 722,355.1 712.1,350.4 692.8,339 690,338 684.3,337.2 679.8,337.3 676.5,338.3 675.6,339.3 673.6,345 668.7,350.2 665.1,353 660.1,356 649.3,361.1 638.2,364.2 626.2,366.3 617.8,366.3 611.6,364.7 609.3,363.4 604.2,359.2 597,354.5 593.4,351 589.7,345.6 587.9,341.7 587.5,339 588.2,334.6 591,328.3 595,322.5 600.3,318 607.5,313.7 618.2,309.1 627.5,306.6 635.7,305.4 646.4,305.5 650.4,305.1 653.4,303.4 654.9,301.3 656.3,297.2 657,293.3 656.9,284.8 655.8,276.4 651.6,256.7 651,250.5 651.3,247.5 653.6,237.4 656.3,219.2 656.5,215 656,212.3 654.2,208.2 650.2,202.1 646.8,198.2 642.5,194.6 635.3,190.7 612.3,181.2 603.7,178.4 594.9,176.7 580.1,174.9 560.5,173.3 542.6,172.6 530.3,172.6 488.1,175.9 475.8,177.5 467.4,179.1 460,181.7 456.9,184 454.4,187.7 453.9,190.2 455,194.1 457,197.6 460.8,202.5 464.9,206.7 466.9,208.1 471.3,210.1 478.2,216.6 489.1,228.7 491.4,232.1 492.5,234.7 494.7,244.2 495.2,257.2 493.9,266.5 490.9,275.7 484.8,289.9 480,298.4 474,306.5 467,313.3 458,320.3 448.4,326.8 441.1,331 431.1,335.5 423.9,339.2 407,352 390,361 384.8,364.9 382.5,366.2 378.9,367.2 373.5,367.7 365.6,367.8 357.2,367.3 343.9,365.5 338,363.9 332.8,361.8 324.2,357 314.3,349.2 309.3,344.2 291.8,324.6 287.1,320.3 283,317.3 275.9,312.9 269.3,310 262.4,307.9 250,305.4 241.5,304.9 237.5,305.4 233.5,306.5 215.9,313.7 169,331 169,348.8 199.3,334 209.9,329.6 218.5,326.6 230,323.6 238.6,322.1 247,321.8 255.2,322.5 267.8,325.5 273.3,327.6 277,329.5 281.6,333 300.9,351.9 308.5,358.4 312.3,360.4 320,363.2 329,368.7 340.4,373.2 346.5,374.5 354.7,375.2 365.8,375.3 376.3,374.6 384.1,373.3 391.7,370.4 402.6,367.7 407,366.2 411.1,364.2 415.4,361.1 432.7,345.5 439.6,340 447.8,335.1 468.8,324.7 472.1,322.5 477.1,317.8 485.1,309.1 489.8,303.3 494,297.2 501.4,281.6 510.6,260 513.3,255 514.5,251 514.7,246.9 514.3,241.3 512.9,232.7 511.6,228.6 505.2,212.2 504,207 504,203.3 505.1,196 506,192.9 507.5,190.4 509.4,188.8 513,187.1 521.3,184.6 528.1,183.1 540.3,181.9 555,182.3 577.2,184.4 594,187.1 612,189.4 615.9,190.4 622,194 630.5,201.7 634.9,207.2 637,212.2 637.6,218 636.8,223.6 631.9,232.8 629.7,240 626.3,247.5 625.5,250.5 625.1,255.6 625.6,273.3 624.5,280.7 622.7,286.2 621.2,288.7 618.4,291.5 604.6,300.2 592.9,310.9 586,318.1 582.5,322.4 580.6,325.9 578.8,331 578,336.3 578.5,342.3 580.9,350.7 583.2,355.8 585.7,358.9 589.9,362.4 595.6,366.1 601.6,369.2 609.5,371.9 618.4,373.7 630,374.7 640.7,374.7 646.5,373.9 651,372.9 674.5,364.7 680,363.2 691.2,361.7 702.5,361.5 711,362.3 720.8,364.1 736.3,368.2 753.3,373.3 767.8,376.6 783.2,378.6 797.1,378.9 810.2,377.4 831,372.8 858.6,365.3 874,360.1 881.4,358.2 898,356.4 909.6,355.8 918.1,355.9 935.5,357.4 954.3,361.1 985,368.9 1002.5,375.2 1010.5,377.6ZM169,212.4 169,270 182.1,274.9 192.7,280.8 197.8,282.6 203.5,283.6 221.2,285.7 225,285.4 227,284.2 228.6,282.1 229.7,279.4 230.3,274.1 229.9,269.8 229,266 226.4,261.2 221.6,256.6 196.1,239 193.3,236.5 191.9,234.4 190.5,230.8 188.3,220.7 186.2,217.2 184.3,215.3 182,213.8 179.5,213Z"/>
<path fill="rgb(255,250,0)" fill-rule="evenodd" d="M1039,387.5 1039,384.3 1007.8,376.8 982,368 954.3,361.1 942.8,358.6 931.2,356.8 919.6,355.9 911.1,355.8 899.4,356.3 888.8,357.2 881.4,358.2 874,360.1 858.6,365.3 831,372.8 810.2,377.4 797.1,378.9 783.2,378.6 767.8,376.6 753.3,373.3 736.3,368.2 720.8,364.1 711,362.3 702.5,361.5 691.2,361.7 680,363.2 674.5,364.7 651,372.9 646.5,373.9 640.7,374.7 630,374.7 618.4,373.7 609.5,371.9 601.6,369.2 595.6,366.1 589.9,362.4 585.7,358.9 583.2,355.8 580.9,350.7 578.5,342.3 578,336.3 578.8,331 580.6,325.9 582.5,322.4 586,318.1 592.9,310.9 604.6,300.2 618.4,291.5 621.2,288.7 622.7,286.2 624.5,280.7 625.6,273.3 625.1,255.6 625.5,250.5 626.3,247.5 629.7,240 631.9,232.8 636.8,223.6 637.6,218 637,212.2 634.9,207.2 629.5,200.7 620.8,193.1 617.2,191 614.6,190 575.6,184.2 550.3,182.1 539,182 526.7,183.4 513,187.1 509.4,188.8 507.5,190.4 506,192.9 505.1,196 504,203.3 504,207 505.2,212.2 511.6,228.6 512.9,232.7 514.3,241.3 514.7,246.9 514.5,251 513.3,255 510.6,260 501.4,281.6 494,297.2 489.8,303.3 485.1,309.1 477.1,317.8 472.1,322.5 468.8,324.7 447.8,335.1 439.6,340 432.7,345.5 415.4,361.1 411.1,364.2 407,366.2 402.6,367.7 391.7,370.4 384.1,373.3 376.3,374.6 365.8,375.3 354.7,375.2 346.5,374.5 340.4,373.2 329,368.7 320,363.2 312.3,360.4 308.5,358.4 300.9,351.9 281.6,333 275.8,328.8 270.6,326.5 263.6,324.3 256.6,322.7 249.7,321.9 241.4,321.9 234.3,322.7 225.6,324.6 215.6,327.5 199.3,334 169,348.8 169,358.7 182.7,353.3 192.1,350.2 218.8,342.5 227.6,340.3 235,339.2 245.6,338.6 254.8,338.8 261.7,339.8 266.8,341.5 272.6,345.2 278,349.8 287.8,360.8 292.2,364.5 308.3,373.8 320.8,381.6 327.6,386.4 334.7,392.6 339.5,395.4 346.3,398.1 350.3,399 353,399.2 357,398.8 362.4,397.7 372.9,394.5 385,389.4 407.5,378.5 411.8,375 421.9,361.8 427.6,356.7 438.5,350 463.7,337.2 471.4,332.7 482.7,325.1 491.4,317.5 498.3,310.2 504.6,302.5 508.8,296.3 518,281 525.6,269.9 531.5,262 539.4,253.8 541.5,250.6 542.9,245.2 542.9,237.9 542.1,233.8 538.9,223.6 538.6,219.5 539.9,213.7 541.7,209.6 543.2,207.1 545,205 548,202.5 551.6,200.5 555.6,199 559.8,197.9 564.1,197.4 575.8,197.2 581.8,197.7 586.8,198.5 592.4,201 603.1,204.6 609,208.4 610.6,210.5 611.3,213.1 611.3,219.3 610.6,222.2 609.4,224.6 606.8,227.9 599.5,235 592.3,243.1 589.5,247.1 588.2,250.6 588.7,253.1 592.4,259.1 598.3,273.2 599.5,278.7 598.8,282.6 593.5,290.5 583.5,302.4 575.8,313.6 570.7,323.8 569.3,330.4 569.2,335.8 570.3,349.7 571.8,355 574.3,360 578.6,365.6 582.8,369.4 591.4,374.8 598.9,378.5 608.4,381.3 624,383.5 632,384.1 645.2,384.2 660.6,383.2 677.1,379.3 690.1,377.3 702,376.2 710.5,376.1 725.8,377.8 745.3,381.3 766.4,384.3 779.1,385 798.5,384.8 813.2,383.4 828,381 853.1,373.8 872.6,368.7 882.8,366.5 900.9,363.7 915.1,363 926.4,364 959.1,370.5 987.2,378.5 1009.8,383.7 1021.2,385.6Z"/>
<path fill="rgb(255,222,0)" fill-rule="evenodd" d="M1039,391.6 1039,387.5 1021.2,385.6 1009.8,383.7 987.2,378.5 959.1,370.5 926.4,364 915.1,363 900.9,363.7 882.8,366.5 872.6,368.7 853.1,373.8 828,381 813.2,383.4 798.5,384.8 779.1,385 766.4,384.3 745.3,381.3 725.8,377.8 710.5,376.1 702,376.2 690.1,377.3 677.1,379.3 660.6,383.2 645.2,384.2 629.2,384 614.4,382.3 605.6,380.7 597.6,377.9 590.2,374.1 582.8,369.4 578.6,365.6 574.3,360 571.8,355 570.3,349.7 569.2,335.8 569.3,330.4 570.7,323.8 575.8,313.6 583.5,302.4 593.5,290.5 598.8,282.6 599.5,278.7 598.3,273.2 592.4,259.1 588.7,253.1 588.2,250.6 589.5,247.1 592.3,243.1 599.5,235 606.8,227.9 609.4,224.6 610.6,222.2 611.3,219.3 611.3,213.1 610.6,210.5 609,208.4 603.1,204.6 592.4,201 586.8,198.5 581.8,197.7 575.8,197.2 564.1,197.4 559.8,197.9 555.6,199 551.6,200.5 548,202.5 545,205 543.2,207.1 541.7,209.6 539.9,213.7 538.6,219.5 538.9,223.6 542.1,233.8 542.9,237.9 542.9,245.2 541.5,250.6 539.4,253.8 531.5,262 525.6,269.9 518,281 508.8,296.3 504.6,302.5 498.3,310.2 491.4,317.5 482.7,325.1 471.4,332.7 463.7,337.2 438.5,350 427.6,356.7 421.9,361.8 412.7,374 408.7,377.7 387.8,388.1 375.6,393.5 365.1,397.1 354.3,399.1 350.3,399 347.6,398.5 340.8,396 334.7,392.6 327.6,386.4 319.6,380.9 291.1,363.6 286.7,359.8 278,349.8 270.4,343.6 265.5,340.9 260.4,339.5 253.3,338.7 244.1,338.6 235,339.2 227.6,340.3 218.8,342.5 192.1,350.2 182.7,353.3 169,358.7 169,370.1 177.7,368.4 181.9,368.2 186.2,369 191.8,371.6 196.1,375.3 199.2,381.5 201,383.6 209.2,390 217.1,398.3 222.1,400.8 226.3,401.9 232,402.8 240.5,402.7 247.2,401.3 260,394.9 264.1,393.6 271.1,393.3 285.7,394.5 289.6,395.2 293.3,396.6 308.2,408 316.8,413.3 322.2,415.6 329.2,417.3 336.6,418 342.4,417.8 349.4,416.7 362.1,413.3 389,404.1 399.5,399.2 410,393 415.8,388.6 429.6,376.8 450,362 465,349.2 485,335.8 501,323.7 511.6,314 533.8,289.7 544.8,278.6 551.9,273.4 554.6,272.2 557.3,272 560,272.3 562.7,273.3 565.7,275.8 566.9,278 568.5,282.1 569.9,289.8 569.8,294 569.1,296.7 561.3,309.6 558.3,318 556.8,325.1 556.3,334.1 557,342.9 558.9,351.5 561.5,358.3 565,364.7 569.3,370.5 575.2,376.7 580.7,381.1 587,384.7 594.7,388.2 600,390.1 612.1,393.5 618.3,394.7 623.6,395.2 642.8,395.3 670.4,394.1 702.3,391.1 729.8,390.3 748,391.1 757.5,392.1 767.5,393.9 771.6,393.9 835,383.5 842.1,382.7 860,381.6 898.1,372.1 907,370.6 914.3,370.3 928,371.1 948.2,373.8 964.7,377.3 1002.8,386.7 1019.7,389.5Z"/>
<path fill="rgb(255,195,0)" fill-rule="evenodd" d="M1039,396.7 1039,391.6 1019.7,389.5 1002.8,386.7 964.7,377.3 948.2,373.8 929.6,371.3 915.8,370.3 907,370.6 898.1,372.1 860,381.6 842.1,382.7 835,383.5 771.6,393.9 767.5,393.9 757.5,392.1 748,391.1 729.8,390.3 702.3,391.1 668.8,394.2 641.2,395.3 622.4,395.1 616.6,394.4 610.8,393.2 594.7,388.2 585.7,384.1 579.5,380.3 574.2,375.7 568.4,369.5 564.2,363.5 560.9,357 558.5,350.1 556.8,341.4 556.3,332.5 556.8,325.1 558.3,318 561.3,309.6 569.1,296.7 569.8,294 569.9,289.8 568.5,282.1 566.9,278 565.7,275.8 562.7,273.3 560,272.3 557.3,272 554.6,272.2 551.9,273.4 544.8,278.6 533.8,289.7 511.6,314 501,323.7 485,335.8 465,349.2 450,362 429.6,376.8 411.2,392.2 400.8,398.5 390.4,403.6 363.4,412.9 353.7,415.6 345.2,417.5 339.5,418 330.6,417.5 323.5,416 318.1,413.9 309.5,408.8 293.3,396.6 289.6,395.2 284.3,394.4 272.7,393.4 265.4,393.4 260,394.9 248.6,400.7 244.6,402.1 240.5,402.7 234.8,403 229.2,402.5 224.9,401.6 219.5,399.7 216,397.4 209.2,390 201,383.6 199.2,381.5 196.1,375.3 194.2,373.3 190.5,370.9 186.2,369 181.9,368.2 177.7,368.4 169,370.1 169,387 181,388 185.1,389.4 189.3,391.4 195.2,395.3 199.1,400.8 202.9,404.4 206.4,406.9 210.3,408.7 218.3,410.8 230.7,412.5 237.9,413.2 252,413.5 259.2,414 271.5,415.2 280.4,416.7 287.2,418.6 298.8,424.4 313.7,430.2 323.6,432.6 334.7,433.7 341.8,433.5 347.5,432.8 356.8,430.8 365,428.3 388.5,417.9 407.8,408.5 415.8,404 421.8,399.7 441.1,382.5 450.4,375.6 459.3,370.3 468.1,366 473.6,364 486.4,360.9 495.5,356.4 502.9,351.4 508.5,346.8 516.9,336.3 519.7,333.5 523,331.6 527.7,330.6 531.9,331 533.9,332.2 534.6,333.2 544.5,356 552.2,370.2 558.5,379.4 562.5,383.8 566.8,387.7 578.3,396.3 587.2,401 597.1,404.1 613.1,408.3 620,409.6 646.5,409.5 657.6,410.1 665,411.6 683.8,417.5 689,418.2 693.2,418.1 702.6,416.2 724.5,408.5 738.3,404.8 769,400.5 794,399.6 802.9,398.9 830,395 854.7,392.2 864.5,390.2 899.6,380.2 908.5,378.6 915.8,378 931.1,378.5 953.9,380.8 966.1,383.1 981.6,387.1 1000,391.2ZM712,494 711,494.3 708.7,496 707.5,498 707.8,499 709.8,501.3 712,502.5 714.2,501.3 716.2,499 716.5,498 715.3,496 713,494.3Z"/>
<path fill="rgb(255,165,0)" fill-rule="evenodd" d="M1039,402.6 1039,396.7 1000,391.2 981.6,387.1 966.1,383.1 953.9,380.8 932.6,378.6 917.3,378 908.5,378.6 899.6,380.2 864.5,390.2 854.7,392.2 830,395 802.9,398.9 794,399.6 769,400.5 738.3,404.8 724.5,408.5 702.6,416.2 693.2,418.1 689,418.2 683.8,417.5 665,411.6 657.6,410.1 648.1,409.5 622.7,409.8 618.7,409.4 595.7,403.7 587.2,401 582,398.5 577.1,395.5 565.7,386.8 558.5,379.4 551.5,368.9 544.5,356 534.6,333.2 533,331.5 529.2,330.6 524.6,331.1 521.6,332.2 519.7,333.5 516.9,336.3 508.5,346.8 501.7,352.3 494.3,357.1 486.4,360.9 473.6,364 469.3,365.5 460.5,369.6 450.4,375.6 441.1,382.5 421.8,399.7 417,403.1 410.5,407.1 390,417.2 366.5,427.7 356.8,430.8 346.1,433 340.4,433.6 333.4,433.6 325.1,432.8 317.9,431.4 312.4,429.8 304.2,426.7 297.5,423.8 287.2,418.6 283,417.3 277.5,416.1 255,413.7 235,413 223,411.5 214,409.8 209.2,408.3 204,405.3 200,401.8 195.2,395.3 191.9,392.9 188,390.7 181,388 169,387 169,404 189.2,409.7 206,412.9 212.9,414.7 235,422 255,429.3 274.5,433.2 281.5,435.6 287.9,438.4 290.3,439.7 295.6,443.7 299.2,445.5 307.6,447.8 317.9,449.3 326.5,449.6 333.9,448.8 340.8,447.1 360.5,440.8 364.7,440.1 372.8,439.5 376.7,438.6 391.2,431.5 413.1,422 422.1,417.1 429.3,412.5 439.6,405.1 453.7,392.7 457.1,390.2 460.8,388.1 466,386.1 473.1,384.5 496.8,381.7 510.6,381.1 523.7,381.3 529.2,381.9 534.1,383.6 540.1,388.4 554.7,404.9 563.6,413.5 567,415.8 577.4,419.8 583.5,423.7 587.9,427.3 592.8,433.3 594.4,437.1 594.4,438.2 593.3,440 590,442.4 578.3,448.5 574.4,450 570.4,451 564.8,450.9 544.8,447.8 542,448.1 538,449.5 532.9,452.6 526.9,457.5 517.8,469.9 515.9,472 513.7,473.6 509.6,475 496,476 480.4,478.9 469.4,482.5 460.6,487.1 454.8,491.4 450,496.3 446,503.1 444.4,507.5 443.9,510.1 444.1,512.8 445.2,515.5 448,519.1 451.7,522.3 455.2,524.4 460.7,527.1 471.2,531.4 479,534.1 488,536 491.9,536.2 494.2,535.8 496.7,534.6 499,532.8 504.6,525.5 507.5,522.8 511.3,521.5 514.2,521.3 517,521.5 519.6,522.3 521.8,523.6 528,530 535.5,536.6 540.2,540.2 543.8,542.4 549.4,544.3 564.2,546.2 572.6,548.7 576,550.9 579,553.6 580.2,555.8 580.6,559.8 579.7,564.2 578,568 575.3,571.4 571,575.2 566.6,577.5 561.5,578.2 544,578 531.1,578.3 524,577.7 511.4,575.1 502.8,574.2 498.5,574.3 495.8,574.9 493.4,576.1 486.5,581.6 484.2,583.1 480.3,584.2 476,584.4 471.7,583.9 467.7,582.7 457.2,577.1 444.2,571.7 434.5,569.7 427.4,569.6 420.3,571.2 410.7,574.9 385,588 367.4,595.1 364.4,597.2 362.9,599.2 362.2,602 362.5,606.1 366.5,616.3 367.8,624.7 368,640.6 367.3,652.3 367.7,656.4 368.5,658.9 370.6,662.6 376.1,668.4 379.3,670.6 384.4,672.2 399,673 408.9,674.2 415.6,675.6 421.2,677.7 426.3,680.7 428.4,682.5 433.4,689.2 436.7,691.5 440.6,693.3 450.1,696.1 461.2,697.4 472.9,699.8 478.9,700.5 481.6,700.5 485.7,699.6 489.6,698 492,696.5 494.2,694.5 496.6,691.5 500.5,683.7 503.3,674.5 504.4,665.6 503.3,659.7 498.7,646.5 498.1,642.3 498.4,639.5 500.2,631.9 502.7,626.1 505.8,621.6 507.5,620 509.9,618.7 512.6,618 515.5,617.8 521.4,618.5 527.8,620.8 534.1,624.6 537.4,627.5 540.1,630.8 542,634.9 545.7,645.1 547.7,648.6 552.7,653.6 556.1,655.8 559.7,657.6 565.2,659 583.7,661.9 590.7,662.2 594.9,661.4 600.7,659.4 605.9,656.6 609,654 614,646 622.6,635.9 626,629.2 626.2,626.3 625.8,625.2 624,622.9 618.9,618.1 616.9,615.7 616.3,614.6 616.5,612.5 619,609.6 627,604.1 629,602.2 630.7,599.8 634.6,592.3 641.7,582.4 646.9,573.7 650.4,569.2 673.4,546.5 678.8,542 681.4,540.6 685.7,539.3 699.7,537.2 704.8,536 711.7,533.7 717.1,531.2 723.1,527.1 728.7,522.1 733.4,516.6 736.5,511.6 738.3,507.6 739.6,503.6 740.4,496.5 739.6,489.5 738.2,485.4 736.2,481.5 733.5,477.8 730.5,475 717.8,468.4 709.1,461.9 704.6,457.6 702.8,454.4 702.7,453.4 703.3,451.3 706,448.1 716.7,440.5 721.7,437.5 738.2,429.9 754.5,423.5 772.2,417.4 790,412.1 807.5,408.2 827.1,404.5 860,400 893.7,391 902.5,389.1 910,388 928,387 946.6,387.6 963.3,390.7 981.6,393.5 1004.2,397.8ZM712,494 713,494.3 715.3,496 716.5,498 716.2,499 714.2,501.3 712,502.5 709.8,501.3 707.8,499 707.5,498 708.7,496 711,494.3ZM509,743 827.9,743 824.2,741.5 818.5,740.1 796.1,735.9 771.7,732.3 759.2,731.4 739.1,730.8 727.7,730.9 695.8,734.1 670.2,735.1 644.2,735.2 622.2,733.7 607.8,731.7 596.8,729.3 590.3,727.2 562,716.4 555.4,714.7 548.8,713.9 542.1,714.5 533.6,716.3 527.9,718.4 523,721.2 520.9,723.2 518,727.1 511,740.3ZM169,732.5 169,743 212,743 186.2,734.7 180.4,733.7ZM318,641 316.3,642.7 314.8,645.1 313.2,650.7 313.2,656.5 314.5,660.9 316,663 319.5,664.5 324,664.9 328,664 330.1,662.5 332,660.2 334.9,654.6 335.4,650.7 334.2,646.5 331.9,642.7 330,641 328.8,640.4 325.7,639.7 322.3,639.7Z"/>
<path fill="rgb(255,140,0)" fill-rule="evenodd" d="M1039,409.5 1039,402.6 1004.2,397.8 981.6,393.5 963.3,390.7 948.1,387.8 931.1,387 912.8,387.7 904,388.9 895.2,390.7 860,400 827.1,404.5 807.5,408.2 790,412.1 772.2,417.4 754.5,423.5 738.2,429.9 721.7,437.5 716.7,440.5 706,448.1 703.3,451.3 702.7,453.4 702.8,454.4 704.6,457.6 709.1,461.9 717.8,468.4 730.5,475 733.5,477.8 736.2,481.5 738.2,485.4 739.6,489.5 740.4,496.5 739.6,503.6 738.3,507.6 736.5,511.6 733.4,516.6 728.7,522.1 723.1,527.1 717.1,531.2 711.7,533.7 704.8,536 699.7,537.2 685.7,539.3 681.4,540.6 678.8,542 673.4,546.5 650.4,569.2 646.9,573.7 641.7,582.4 634.6,592.3 630.7,599.8 629,602.2 627,604.1 619,609.6 616.5,612.5 616.3,614.6 616.9,615.7 618.9,618.1 624,622.9 625.8,625.2 626.2,626.3 626,629.2 622.6,635.9 614,646 609,654 605.9,656.6 600.7,659.4 594.9,661.4 590.7,662.2 583.7,661.9 565.2,659 559.7,657.6 556.1,655.8 552.7,653.6 547.7,648.6 545.7,645.1 542,634.9 540.1,630.8 537.4,627.5 534.1,624.6 527.8,620.8 521.4,618.5 515.5,617.8 512.6,618 509.9,618.7 507.5,620 505.8,621.6 502.7,626.1 500.2,631.9 498.4,639.5 498.1,642.3 498.7,646.5 503.3,659.7 504.4,665.6 503.7,673 501.1,682.2 497.4,690.3 495.2,693.4 493.1,695.5 490.8,697.3 487,699.1 482.8,700.3 480.3,700.5 474.5,700.1 460,697.2 451.5,696.4 444.7,694.7 439.2,692.7 434.5,690.1 432.5,688.1 429.3,683.6 427.4,681.6 423.8,679.1 418.3,676.5 413,675 406.1,673.8 397.5,672.9 387.1,672.5 383.1,672 379.3,670.6 376.1,668.4 370.6,662.6 368.5,658.9 367.7,656.4 367.3,652.3 368,640.6 367.8,624.7 366.5,616.3 362.5,606.1 362.2,602 362.9,599.2 364.4,597.2 367.4,595.1 385,588 410.7,574.9 420.3,571.2 427.4,569.6 434.5,569.7 444.2,571.7 457.2,577.1 467.7,582.7 471.7,583.9 476,584.4 480.3,584.2 484.2,583.1 486.5,581.6 493.4,576.1 495.8,574.9 498.5,574.3 502.8,574.2 511.4,575.1 524,577.7 531.1,578.3 544,578 561.5,578.2 566.6,577.5 571,575.2 575.3,571.4 578,568 579.7,564.2 580.6,559.8 580.2,555.8 579,553.6 576,550.9 572.6,548.7 564.2,546.2 549.4,544.3 543.8,542.4 540.2,540.2 535.5,536.6 528,530 521.8,523.6 519.6,522.3 517,521.5 514.2,521.3 511.3,521.5 507.5,522.8 504.6,525.5 499,532.8 496.7,534.6 494.2,535.8 491.9,536.2 488,536 479,534.1 471.2,531.4 460.7,527.1 455.2,524.4 451.7,522.3 448,519.1 445.2,515.5 444.1,512.8 443.9,510.1 444.4,507.5 446,503.1 450,496.3 454.8,491.4 460.6,487.1 469.4,482.5 480.4,478.9 496,476 509.6,475 513.7,473.6 515.9,472 517.8,469.9 526.9,457.5 532.9,452.6 538,449.5 542,448.1 544.8,447.8 564.8,450.9 570.4,451 574.4,450 578.3,448.5 590,442.4 593.3,440 594.4,438.2 594.4,437.1 592.8,433.3 586.9,426.4 582.3,422.8 577.4,419.8 567,415.8 563.6,413.5 554.7,404.9 540.1,388.4 536.2,385 532.9,383 530.4,382.2 523.7,381.3 509.2,381.1 495.2,381.9 474.5,384.3 464.7,386.6 459.5,388.7 455.9,391 441.8,403.4 429.3,412.5 419.6,418.6 411.7,422.6 391.2,431.5 376.7,438.6 372.8,439.5 364.7,440.1 360.5,440.8 338,447.9 332.7,449 328,449.5 316.4,449.2 309.1,448.1 303.2,446.8 296.7,444.4 290.3,439.7 286.7,437.8 275.9,433.6 253.7,428.9 235,422 211.6,414.3 189.2,409.7 169,404 169,420.7 183.3,421.6 191.5,423.7 217.4,434.3 235.6,442.5 244,447 249.3,451 251.8,454.4 253.5,460.1 254.4,467.2 253.9,477.3 254,481.6 255.2,487.2 257.8,494.2 260.6,499 264.2,502.9 268.7,505.8 278,510.2 282.4,511.3 285.4,511.3 289.1,510.4 294.4,508 306.6,500 315,492.2 329.2,483 343.3,471.6 350.9,467.5 364.5,461.5 368.9,459.9 373.1,459 379,459.3 384.7,461 389.7,463.8 393.7,467.5 397.1,472 400.2,478.4 402.3,485.7 402.8,491.5 402.5,495.7 401.1,501.2 399.3,505.1 397.1,508.5 395.1,510.5 391.6,513.1 387.5,515.2 381.8,517.4 374.9,518.9 360.1,520.7 353.2,522.3 341.3,526.2 323.7,533.4 312.6,536.3 308.2,536.7 304.1,536.7 290,533.7 285.5,533.2 282.6,533.2 278.4,533.8 272.9,535.5 265.8,538.6 237.1,553.6 233,555.2 227.7,556.6 219,558.1 204.6,559.8 169,562.3 169,732.5 180.4,733.7 186.2,734.7 212,743 509,743 511,740.3 518,727.1 520.9,723.2 523,721.2 527.9,718.4 533.6,716.3 542.1,714.5 548.8,713.9 554,714.5 560.7,716 590.3,727.2 599.5,729.9 615,732.8 632.8,734.6 649.4,735.2 682.4,734.8 697.3,734 724.9,731.1 743.2,730.9 762.1,731.5 773.1,732.5 794.5,735.7 812.6,738.9 823.3,741.2 827.9,743 985,743 1001.1,734.3 1012.2,728.9 1017.4,727.4 1029.7,725.6 1039,722.5 1039,493.1 1006.9,494.8 992.7,496.3 987.4,497.4 983.1,498.7 967.8,505.4 963.5,506.4 958.1,506.9 945,506 914.5,501.1 891,499 881.6,497.5 871.4,494.7 860.4,490.4 848.7,484.9 839.1,479.1 834.4,475.3 822.8,464.6 802.2,448.7 801.5,447.6 800.6,445.3 800.4,442.5 800.7,439.5 801.6,436.5 802.9,433.6 804.4,431.5 807.3,429.1 813.5,425.7 827.6,420.1 838.9,416.5 881.4,405.3 899.7,400 907,398.2 915.8,396.9 934.1,395.3 948.1,395.5 980.2,400.6 1005.6,405.4ZM318,641 322.3,639.7 325.7,639.7 328.8,640.4 330,641 331.9,642.7 334.2,646.5 335.4,650.7 334.9,654.6 332,660.2 330.1,662.5 328,664 324,664.9 319.5,664.5 316,663 314.5,660.9 313.2,656.5 313.2,650.7 314.8,645.1 316.3,642.7ZM437,446 439.7,446.7 442.6,448.3 445,450.2 446,452 445,453.7 442.6,455.5 439.7,456.9 437,457.5 434.3,456.9 431.4,455.5 429,453.7 428,452 429,450.2 431.4,448.3 434.3,446.7ZM985,743 1039,743 1039,722.5 1029.7,725.6 1017.4,727.4 1012.2,728.9 1001.1,734.3Z"/>
<path fill="rgb(255,100,0)" fill-rule="evenodd" d="M1039,424.1 1039,409.5 1005.6,405.4 981.6,400.8 949.6,395.7 938.4,395.2 924.9,395.9 912.8,397.3 902.6,399.2 881.4,405.3 838.9,416.5 826.3,420.6 812.2,426.4 808.4,428.4 805.3,430.7 802.9,433.6 801.6,436.5 800.5,441 800.4,443.9 801.5,447.6 803.2,449.7 809.5,454 822.8,464.6 837.9,478.2 843.7,482.1 850,485.5 865.9,492.7 877.1,496.4 886.9,498.4 913.2,501 946.6,506.2 954,506.8 960.7,506.7 967.8,505.4 983.1,498.7 991.4,496.5 1005.4,494.9 1039,493.1 1039,468.1 979.6,470.4 920,474.1 908.7,473.6 898.1,472 890,469.7 882.3,466.1 873.3,459.8 865.7,452.6 861.7,447 859.9,443.2 859.1,440.7 858.8,438 859,435.1 859.8,432.3 861.1,429.8 865.4,425.7 868,424.1 870.4,423.2 880,421.7 892,418.5 911.4,414.1 935.9,407.1 943,406 947.1,406.4 959.7,409.5 975.5,410.4 981.2,411.2 1001.3,416.7ZM169,536.8 169,562.3 204.6,559.8 219,558.1 227.7,556.6 233,555.2 237.1,553.6 265.8,538.6 271.5,536.1 277.1,534.1 281.1,533.3 285.5,533.2 290,533.7 304.1,536.7 308.2,536.7 312.6,536.3 323.7,533.4 341.3,526.2 353.2,522.3 360.1,520.7 377.8,518.4 381.8,517.4 386,515.8 391.6,513.1 395.1,510.5 397.9,507.5 400,503.9 401.5,499.9 402.7,494.3 402.8,490.1 401.9,484.2 400.2,478.4 397.8,473.3 394.6,468.6 390.7,464.7 386.1,461.7 381.9,460 376,458.9 371.7,459.2 366,461 353.5,466.3 343.3,471.6 329.2,483 315,492.2 306.6,500 294.4,508 290.4,509.9 286.6,511.1 283.9,511.4 279.4,510.6 272.5,507.7 265.3,503.7 261.3,500 258.5,495.5 255.7,488.6 254,481.6 253.9,477.3 254.4,467.2 253.2,458.6 252.4,455.8 251,453.1 247.4,449.4 241.4,445.4 234.1,441.8 216.1,433.7 191.5,423.7 183.3,421.6 169,420.7 169,451.8 179.5,464 184.8,468.8 189.9,471.7 202.3,477.1 205.7,479.6 210,483.8 214.7,489.6 218,495.7 219.7,501.6 220.2,507 219.9,511.4 218.8,514.2 217.5,516.4 212.4,522.5 207.5,526.2 203.3,527.4 193.3,528.3 185,532.3ZM437,446 434.3,446.7 431.4,448.3 429,450.2 428,452 429,453.7 431.4,455.5 434.3,456.9 437,457.5 439.7,456.9 442.6,455.5 445,453.7 446,452 445,450.2 442.6,448.3 439.7,446.7Z"/>
<path fill="rgb(255,50,0)" fill-rule="evenodd" d="M1039,468.1 1039,424.1 1001.3,416.7 979.8,410.9 959.7,409.5 945.8,406.2 943,406 938.7,406.5 910,414.5 892,418.5 880,421.7 869.2,423.6 865.4,425.7 862,428.7 859.8,432.3 859,435.1 858.8,438 859.1,440.7 861,445.7 864.8,451.5 871,457.9 878.9,463.9 884.8,467.4 892.5,470.5 901,472.5 911.9,473.9 921.5,474 947,472.2 978.1,470.5ZM950,439 953,437.6 958,436.8 963,437.6 966,439 963,440.5 958,441.4 953,440.5ZM169,451.8 169,536.8 185,532.3 193.3,528.3 203.3,527.4 207.5,526.2 212.4,522.5 217.5,516.4 218.8,514.2 219.9,511.4 220.2,507 219.7,501.6 218,495.7 214.7,489.6 210,483.8 205.7,479.6 202.3,477.1 189.9,471.7 184.8,468.8 179.5,464Z"/>
<path fill="rgb(255,0,0)" fill-rule="evenodd" d="M950,439 953,440.5 958,441.4 963,440.5 966,439 963,437.6 958,436.8 953,437.6Z"/>
<path fill="none" stroke="#000" stroke-width="1" d="M169,135.4 202.1,132.8 272.5,124.9 309.8,121.7 375.7,118.6 465.3,116.2 560.6,115.8 621.2,116.1 702.4,117.8 823.7,119.4 1039,124M1039,301.2 1028.5,303.3 1024.9,305 1022.9,306.9 1020.6,310.4 1019.6,313 1019.3,315.6 1019.9,320 1020.9,323 1022.4,325.6 1024.2,327.5 1027.6,329.2 1039,332.1M169,149.1 203.3,146.1 277.3,136.5 319.9,132.2 358.3,129.2 398.9,126.7 436.1,124.9 463.8,124.1 573.4,123.5 602,123.9 635.4,126.3 670.8,127.6 786.5,133.2 831.8,136.9 856.1,138.5 874.5,139.1 922.1,138.8 1039,135.5M829,235.4 829.5,232.6 832.9,227.7 837.9,223 842.8,220.1 848.4,218.6 870.5,215.5 885.4,215.2 896.7,215.5 906.5,216.4 914,217.7 919,219.3 926,223.3 931.5,227.8 935.4,232.4 936.4,234.5 936.7,236.3 935.7,238.2 933.6,239.9 929.2,242.2 923.3,244.3 916.5,245.5 904.7,246 894.8,245.5 875.8,243.5 836.3,238.4 830.9,237.1 829,235.4M1039,291.9 1021.9,295.4 1018.2,296.7 1014.6,298.9 1010.1,302.6 1006.8,306.9 1005.5,310.7 1005.2,315.1 1005.9,320.8 1007.3,324.8 1010.5,329.7 1014,332.9 1017.2,334.7 1021.1,336.1 1039,340.7M169,155.8 203.3,153.2 283.9,142.8 336.5,137.8 378.8,134.5 416.7,132.1 446.6,130.8 474.1,130.2 542.1,130.5 621.3,132.5 669.2,138.8 680.4,139.4 712.6,140.1 730.5,141.6 766.9,146.9 834.6,158.2 846,159.6 857.8,160.3 909.4,160.6 930.9,159.9 944.1,158.5 969.8,153.7 981.7,151.9 1000.3,150.4 1039,148.3M780.9,235 782,231.3 783.9,227.4 787.2,222.4 789.9,219.1 793,216.2 796.6,213.6 805,209.2 817.7,204.7 831.5,201.5 847.4,199.3 864.4,198.3 877.6,199 895.2,201.8 914.7,206.3 933.9,211.3 941,213.5 948.3,216.9 953.7,221.6 956.5,225.4 958,228 958.9,230.7 959.3,233.3 958.5,238.7 955.9,244.2 952.8,247.9 948.5,250.9 943.1,252.8 934.5,254.3 924.6,255.2 910.3,255.6 875,255.5 844,254.3 810.6,254.3 791,253.6 787.4,252.5 785.5,251.1 784.7,250 783.5,247.5 781.1,239.4 780.9,235M1039,284.9 1017.2,287.2 1011.7,288.6 1008,290.4 1003,294 998.3,299.6 996,304.6 995,311.7 995.6,318.7 997.5,325.6 1000.8,331.8 1004.5,335.6 1010.4,339.3 1018.4,342.7 1024,344.2 1039,346.9M169,162.5 205.5,159.9 290.4,149.8 374.1,141.5 423.8,137.5 462.3,135.8 488.4,135.5 530.6,136 635.4,139.1 657.3,141.2 715.8,149.8 741.6,154.5 749.7,156.6 758,159.4 767.1,163.3 779.4,169.9 784.5,173.4 787.1,176.2 788.1,179.2 787.7,181.7 786.6,184.2 777,199.3 766.7,214.6 762.3,223.3 759.9,229.8 758.4,236.8 757.7,242.6 757.9,246.6 759.4,250.2 762,253.3 769.3,259.4 775.3,263 780.7,265 785.9,266.1 793.4,266.8 801.3,267.1 816.4,266.6 839,263.4 868.7,262.1 883.5,260.1 891.5,260.3 912.5,262.9 935.2,264 946.2,263.4 950.4,262.5 955.7,260.6 969.1,253.4 972.5,250.8 975.3,247.7 977.2,244.1 978.5,239.9 980.9,225.8 980.3,221.3 978.2,216.6 966.8,200.2 961.3,194.1 960.8,192 961.6,190.6 963.3,189.3 967,187.5 987.2,180.7 1002.3,176.5 1039,167.5M1039,275.6 1010.4,276.8 1003.9,278 998.6,279.9 994.4,282.2 990.8,284.7 986.2,289.6 983.9,294.8 983.1,302 984.2,310.5 987.7,320.5 992.7,329.4 998.5,336 1001.7,338.6 1006.5,341.8 1017.1,346.9 1023.7,349.2 1039,353.1M169,168.1 205.5,164.8 287.1,155.8 391.2,145.1 432.1,141.9 465.3,140.5 494.1,140.3 536.8,141 575.8,142.5 620.3,144.9 641,146.6 666.2,149.5 685,152.4 703.7,156.1 726.2,161.6 732.9,163.9 737.9,166.8 744.1,171.6 748,175.5 750.2,179.2 751.5,185 751.3,191.8 749.7,200.5 745.9,211.3 744.1,219.6 742.2,237.2 741.8,246.5 742.7,252 745.6,258.4 750.1,263.7 754.5,267 762.5,270.8 773.6,274.3 783.4,276.1 795,277 807,276.9 820.5,276 844.8,272.1 858.5,270.6 865.8,270.4 872.2,270.8 888,273 917.6,278.2 933.4,281.7 947.3,285.7 957.6,289.8 961.1,292 964.5,294.8 969,300 973.9,310.4 979.9,318.3 991,330.1 1004.4,341.6 1012.7,347.7 1020,352 1026.7,354.6 1039,357.9M1039,194 1025.4,203 1022.4,205.7 1020.9,207.7 1019.5,211.6 1018.9,218.6 1017.9,222.8 1015,227.8 1006.7,238.9 1002.8,245.6 1001.6,249.5 1002.4,253.1 1004.9,256.4 1009.4,260.1 1013.1,262 1019,263.7 1026.3,265 1039,264.8M169,172.9 198.1,170.6 230.6,167.4 402.3,149.4 432.5,146.9 460.7,145.7 490.3,145.2 526,145.5 560.5,146.4 590.4,147.8 608.7,149.2 624.8,150.9 657.6,155.5 674.3,158.5 684.6,161.1 717,170.5 720.4,172 724,174.2 727.4,178 728.5,180.2 729.5,184 730.4,192.4 730.3,199.4 728.4,230.8 728.9,247.9 729.7,255.4 731.3,260.5 735.2,266.7 740.4,271.9 747.5,276.6 757.9,281 776.3,286.5 790.8,289.8 803.6,291.5 815.7,291.4 830.4,289.3 840.8,287.2 865.8,280.6 870,280 878.8,280.8 901,285 923.4,287.8 933,289.8 938.1,291.8 942.1,294.1 946.9,297.7 953,303.2 982.6,336.2 987,339.9 997.2,345.9 1016.1,355.5 1023.9,358.3 1039,362.3M788,322.8 789.1,320.7 791,318.9 800.3,313 810.8,307.7 819.6,304.7 825.3,304.4 831.7,305.7 834.3,306.9 836.1,308.6 837.5,312.3 837.7,317.1 837.2,320.2 836.1,322.8 833.4,325.4 828.1,328.1 810.4,334.8 804.6,336.5 800.7,337 797.4,336.8 794.4,336.2 791.8,335 790,333.1 788.7,330.3 787.8,325.5 788,322.8M169,178.1 257.1,170 417.4,153.8 447.4,151.5 482.9,149.8 505.1,149.4 526,149.5 549,150.3 573.6,151.7 595.3,153.5 616.3,155.9 635.6,158.6 651.8,161.7 673.7,167.4 682.7,170.3 693.6,174.6 698.6,177.2 702.1,179.6 706.4,183.6 710.1,188.1 713.1,194.2 714.7,203.1 715,211 714.5,230.5 714.6,238.9 715.7,247 718,254.6 721,261.3 724,266.8 727.4,271.7 730.4,275.1 742.8,285.4 760.3,298.1 765.9,303.4 767.9,305.8 768.8,308.2 768.7,309.4 765.2,315.6 762.5,321.7 761.7,324.3 761.4,328.4 761.9,332.8 762.7,335.5 764.1,337.7 767.7,340.1 775.1,343.8 783.7,347.2 789,348.8 793,349.2 799.9,348.8 815.3,346.8 824.1,345.1 832.4,342.6 843.2,338.2 850.5,333.5 868.1,316.8 879.7,304.4 883.8,300.7 887.3,298.7 890.9,297.5 895,297 898.9,297.1 906.4,298.4 918.2,301.4 923.2,303.4 931.1,307.5 946.2,316.7 982.6,343.2 993.7,350 1003.8,355.4 1011.8,359 1020,362 1039,366.3M346,269.7 354.1,267.2 362,265.5 367.9,264.8 373,265 376.8,266.2 380,268.3 383.9,272.6 386.2,276.7 387,279.6 387,282.1 383.4,293.5 382.7,298 384.1,313.4 383.8,318.9 382.3,322.7 379.9,326.1 376.8,328.9 373.3,331 367.8,332.9 362,333.6 356.4,333.3 350.9,331.8 346.2,329.3 342.1,325.7 337.7,320 335,315 331.9,306.5 329.4,296.4 328.6,290.6 329,285.3 331.4,280.4 336.1,275.4 340.5,272.2 346,269.7M169,184 205.7,181.3 270.2,175.2 306.4,171.5 358.4,165.4 412.9,159.8 462.2,155.8 491.8,154 508.1,153.5 524.5,153.5 562,155.1 598.2,158.4 611.8,160.4 625.1,162.9 650.1,169.1 678.9,178.9 682.7,180.5 686.3,182.8 691,186.7 694,190.1 697.5,196.3 698.8,200.4 700,206.3 700.7,216.1 701.2,249 702.3,254.5 704.8,261.1 710.4,271.7 715.5,279 731.2,297.9 734.1,301 739.8,305.9 742.3,309.2 743.6,314.4 744.8,331.1 745.4,333.6 746.5,336 749.2,339.2 756.6,346 760.1,348.9 763.7,351.2 767.7,352.7 771.6,353.4 786,353.6 798.5,354.3 810.2,353.8 822.4,352.3 832.5,349.7 842,345.7 848.3,342.2 858.7,333.8 863.6,331.3 870.2,329 882.8,325.8 894.9,323.8 906.6,322.7 916.7,322.8 929.8,324.5 939.7,327.4 965,339.5 983.7,350.5 995.7,356.2 1010.5,362.2 1018.6,365.1 1039,369.9M382.8,245.7 394.7,245.3 408.7,245.7 423.2,247.1 430.1,248.7 432.3,249.9 434.4,251.7 436.2,254.1 438.2,257.8 440.1,262.7 440.1,265.5 439.5,267.9 436.9,273.2 433.8,277.9 405.8,306.6 401.8,312.1 398.5,320.3 396.3,324.1 390.6,330.7 384.1,336.3 380.7,338.8 377,340.9 373.1,342.2 367.4,343.2 361.5,343.5 357.2,343.1 351.4,342 347.1,340.6 343.2,338.8 339.4,336.5 334.9,332.7 330.8,328.5 323.6,317.7 316.8,304.6 313.3,296.5 310.8,286.8 310.6,283.9 310.9,279.6 312.8,272 315.4,266.6 318.3,263.5 322.2,261.3 333.9,256.3 341.6,253.8 351.2,251.5 372.4,247.1 382.8,245.7M169,188.9 212.1,186.6 293.2,179.9 361.4,172.8 429.5,164.8 468.1,161.3 491.8,159.7 518.5,158.9 553.1,159.8 584,162 596.1,163.5 605.5,165.2 614.6,167.6 631.9,173.4 650.6,178.2 658.4,180.8 665.2,183.8 671.1,187.1 677.6,191.9 681.3,195.6 683.8,200.2 685.3,207.3 686.5,219.3 687.3,245.3 687.8,250.5 690.5,263 694.1,273 698.5,281.2 708.7,296.7 711.9,301 718.6,308.1 720.8,311.4 726.4,322.3 730.9,332.5 733.9,337.3 737.5,341.8 744.1,348.8 748.4,352.3 752,354.3 762,357.9 772.1,359.9 800,360.6 816.3,359.2 826.7,357.3 833.6,355.2 846.3,349.4 860,341.7 868.2,338.6 875.5,336.4 884.3,334.5 894.9,333.1 906.6,332.3 916.7,332.4 928.3,333.9 942.4,337.6 954.3,342.1 983.6,355.4 1003.7,363.5 1020,369 1039,373.5M306.6,242.7 310,240.9 313.5,239.7 321.2,238.4 362.7,235.7 398.6,232.3 417.4,231.7 428.3,232.2 432.9,233.1 445.9,237.3 449.5,239.3 451.6,241.1 456.4,247.2 460.8,254.7 462.5,260 462.5,265.3 460.6,273.2 455.2,286.4 451.9,292.7 448.4,297.2 442.1,303.1 436.3,307.4 428.9,312 419,316.9 415.4,319.3 411.3,323.3 401.7,334.9 396.6,339.4 385,347.3 382.4,348.7 378.5,349.8 373.1,350.4 364.5,350.4 349.8,349.3 343.1,347.8 336.6,345.2 330.8,341.6 325.8,337 321.2,331.7 318,327.3 304,304.1 296.3,294 293.8,289.3 292.4,283.8 291.9,275.7 292.3,266.8 293.7,255 295.3,251.2 297,249.1 300.5,246.3 306.6,242.7M169,304 172.1,307 172.5,308 172.1,309 169,312M169,197.4 200,195.6 238.7,195.8 254.9,195 284,191.2 355.6,184.8 368.9,182.9 398.1,177.6 414.2,175.3 466.4,169.2 496.8,166.8 525.2,165.7 558.5,166.2 583.3,167.6 593.2,168.6 602,170.1 612.7,173.1 630.7,180.4 650.7,187.1 659.5,192 662.7,194.7 665.5,198 667.8,201.9 670.1,207.3 671.2,211.5 671.9,215.8 672.4,224.6 671.7,253.1 672.2,260.4 674.8,270.4 679.3,281.6 684,290.5 690.1,300 701.1,313.7 717.6,337.4 724.1,345.3 728.2,349.5 732.7,352.9 738.7,356.2 745.3,359.1 753.5,362 762.4,364.5 769.3,365.9 776.5,366.4 803,366 817.8,364.1 829.4,361.6 837.4,358.9 860,350 871.1,346.4 878.5,344.4 888.8,342.6 899.4,341.5 909.6,341.1 918.1,341.4 925.4,342.1 932.7,343.5 949,347.6 963.7,352.4 987.6,361.8 1014.5,371.3 1022.8,373.7 1039,377.1M169,286 178.6,290.6 183.3,293.8 186.5,297.4 189.1,301.4 190.6,304.8 190.9,307.2 189.4,310.6 177.9,324.1 174.4,326.4 169,328.6M262,209.6 269.3,208.8 278.7,208.6 288,208.9 295,209.6 301,210.9 313.5,214.8 327.4,218.2 337.5,220.2 344.8,221 358.2,220.7 395.7,216.9 418.1,215.5 429.8,216.1 441.9,218.7 449.9,221.5 456.3,224.8 469.2,233.7 472.8,237.9 476.4,245.5 478,252.6 478.5,264.2 477.3,272.3 473.6,281.5 467.1,294.7 460.6,304.7 455.8,310.3 449.9,314.7 428.9,326.6 415,337 392.2,353.1 387.8,355.6 384,357.2 381,358 376.2,358.5 368.7,358.5 359,357.8 350.1,356.7 343.5,355.3 337.3,353 330.1,348.9 322.1,342.4 315.2,335.7 286.8,303 283,299.1 276.7,293.9 273.1,289.8 270.2,285.1 267,278.8 262.7,265.2 261.3,262.6 258.9,259.4 253.7,254.2 246.7,248.3 240.2,243.3 232.5,239.1 230.1,236.5 229.3,232.5 229.7,227.7 231.5,222.3 233.9,219.4 239.6,216.1 245.6,213.7 254.3,211.1 262,209.6M604.6,329.9 606.3,327.8 608.5,325.9 615.2,322.5 622,321.1 629,321.4 631.8,322.2 636,324.3 639.7,326.9 641.7,328.8 644.2,332.3 645.4,334.9 646,337.3 645.8,339.8 644.2,343.5 641.1,348 638,351 634.3,353.3 630.2,354.4 625.5,354.7 620.9,354.5 615.2,353.5 611.1,352.1 608.8,350.9 606.9,349.1 604.7,345.6 603.5,341.6 603.1,337.2 603.6,332.6 604.6,329.9M169,212.4 179.5,213 182,213.8 185.3,216.2 188.3,220.7 190.5,230.8 191.9,234.4 193.3,236.5 196.1,239 221.6,256.6 226.4,261.2 227.9,263.5 229.4,267.2 230.3,272.7 230.2,276.8 229.2,280.8 227,284.2 226,285 223.9,285.6 219.7,285.6 202,283.4 196.5,282.3 192.7,280.8 183.3,275.5 169,270M169,331 215.9,313.7 233.5,306.5 237.5,305.4 241.5,304.9 250,305.4 262.4,307.9 269.3,310 275.9,312.9 283,317.3 287.1,320.3 291.8,324.6 309.3,344.2 314.3,349.2 324.2,357 332.8,361.8 338,363.9 343.9,365.5 357.2,367.3 365.6,367.8 373.5,367.7 378.9,367.2 382.5,366.2 384.8,364.9 390,361 407,352 423.9,339.2 431.1,335.5 441.1,331 448.4,326.8 458,320.3 467,313.3 474,306.5 480,298.4 484.8,289.9 490.9,275.7 493.9,266.5 495.2,257.2 494.7,244.2 492.5,234.7 491.4,232.1 489.1,228.7 478.2,216.6 471.3,210.1 466.9,208.1 464.9,206.7 460.8,202.5 457,197.6 455,194.1 453.9,190.2 454.4,187.7 456.9,184 460,181.7 467.4,179.1 475.8,177.5 488.1,175.9 530.3,172.6 541.3,172.5 558.9,173.2 578.5,174.7 593.5,176.5 603.7,178.4 612.3,181.2 635.3,190.7 642.5,194.6 646.8,198.2 650.2,202.1 654.2,208.2 656,212.3 656.5,215 656.3,219.2 653.6,237.4 651.3,247.5 651,250.5 651.6,256.7 655.8,276.4 656.9,284.8 657,293.3 656.3,297.2 654.9,301.3 653.4,303.4 650.4,305.1 646.4,305.5 635.7,305.4 627.5,306.6 618.2,309.1 607.5,313.7 600.3,318 595,322.5 591,328.3 588.2,334.6 587.5,339 587.9,341.7 589.7,345.6 593.4,351 597,354.5 604.2,359.2 609.3,363.4 611.6,364.7 617.8,366.3 626.2,366.3 638.2,364.2 649.3,361.1 660.1,356 665.1,353 668.7,350.2 673.6,345 675.6,339.3 676.5,338.3 679.8,337.3 684.3,337.2 690,338 692.8,339 712.1,350.4 722,355.1 734,360.2 743.6,363.7 762.5,369.7 772,371.8 781.8,372.4 797.1,372.4 805.8,371.7 817.8,370 828,368 835.4,366.1 871.1,353.8 880,351.3 896.5,348.7 905,348 912.5,347.9 929.7,349.3 944.3,352 969,359.2 1001.1,370.7 1013.2,374.6 1022.8,377.2 1039,380.7M169,348.8 199.3,334 215.6,327.5 225.6,324.6 234.3,322.7 241.4,321.9 249.7,321.9 256.6,322.7 263.6,324.3 270.6,326.5 275.8,328.8 281.6,333 300.9,351.9 308.5,358.4 312.3,360.4 320,363.2 329,368.7 340.4,373.2 346.5,374.5 354.7,375.2 365.8,375.3 376.3,374.6 384.1,373.3 391.7,370.4 402.6,367.7 407,366.2 411.1,364.2 415.4,361.1 432.7,345.5 439.6,340 447.8,335.1 468.8,324.7 472.1,322.5 477.1,317.8 485.1,309.1 489.8,303.3 494,297.2 501.4,281.6 510.6,260 513.3,255 514.5,251 514.7,246.9 514.3,241.3 512.9,232.7 511.6,228.6 505.2,212.2 504,207 504,203.3 505.1,196 506,192.9 507.5,190.4 509.4,188.8 513,187.1 526.7,183.4 539,182 550.3,182.1 575.6,184.2 614.6,190 617.2,191 620.8,193.1 629.5,200.7 634.9,207.2 637,212.2 637.6,218 636.8,223.6 631.9,232.8 629.7,240 626.3,247.5 625.5,250.5 625.1,255.6 625.6,273.3 624.5,280.7 622.7,286.2 621.2,288.7 618.4,291.5 604.6,300.2 592.9,310.9 586,318.1 582.5,322.4 580.6,325.9 578.8,331 578,336.3 578.5,342.3 580.9,350.7 583.2,355.8 585.7,358.9 589.9,362.4 595.6,366.1 601.6,369.2 609.5,371.9 618.4,373.7 630,374.7 640.7,374.7 646.5,373.9 651,372.9 674.5,364.7 680,363.2 691.2,361.7 702.5,361.5 711,362.3 720.8,364.1 736.3,368.2 753.3,373.3 767.8,376.6 783.2,378.6 797.1,378.9 810.2,377.4 831,372.8 858.6,365.3 874,360.1 881.4,358.2 898,356.4 909.6,355.8 918.1,355.9 935.5,357.4 954.3,361.1 985,368.9 1002.5,375.2 1010.5,377.6 1039,384.3M169,358.7 182.7,353.3 192.1,350.2 218.8,342.5 227.6,340.3 235,339.2 244.1,338.6 253.3,338.7 260.4,339.5 265.5,340.9 270.4,343.6 278,349.8 286.7,359.8 291.1,363.6 319.6,380.9 327.6,386.4 334.7,392.6 340.8,396 347.6,398.5 350.3,399 354.3,399.1 365.1,397.1 375.6,393.5 387.8,388.1 408.7,377.7 412.7,374 421.9,361.8 427.6,356.7 438.5,350 463.7,337.2 471.4,332.7 482.7,325.1 491.4,317.5 498.3,310.2 504.6,302.5 508.8,296.3 518,281 525.6,269.9 531.5,262 539.4,253.8 541.5,250.6 542.9,245.2 542.9,237.9 542.1,233.8 538.9,223.6 538.6,219.5 539.9,213.7 541.7,209.6 543.2,207.1 545,205 548,202.5 551.6,200.5 555.6,199 562.6,197.5 574.1,197.2 581.8,197.7 586.8,198.5 592.4,201 603.1,204.6 609,208.4 610.6,210.5 611.3,213.1 611.3,219.3 610.6,222.2 609.4,224.6 606.8,227.9 599.5,235 592.3,243.1 589.5,247.1 588.2,250.6 588.7,253.1 592.4,259.1 598.3,273.2 599.5,278.7 598.8,282.6 593.5,290.5 583.5,302.4 575.8,313.6 570.7,323.8 569.3,330.4 569.2,335.8 570.3,349.7 571.8,355 574.3,360 578.6,365.6 582.8,369.4 591.4,374.8 598.9,378.5 608.4,381.3 624,383.5 632,384.1 645.2,384.2 660.6,383.2 677.1,379.3 690.1,377.3 702,376.2 710.5,376.1 725.8,377.8 745.3,381.3 766.4,384.3 779.1,385 798.5,384.8 813.2,383.4 828,381 853.1,373.8 872.6,368.7 882.8,366.5 900.9,363.7 915.1,363 926.4,364 959.1,370.5 987.2,378.5 1009.8,383.7 1021.2,385.6 1039,387.5M169,370.1 177.7,368.4 181.9,368.2 186.2,369 190.5,370.9 194.2,373.3 196.1,375.3 199.2,381.5 201,383.6 209.2,390 216,397.4 219.5,399.7 224.9,401.6 229.2,402.5 234.8,403 240.5,402.7 244.6,402.1 248.6,400.7 260,394.9 265.4,393.4 272.7,393.4 284.3,394.4 289.6,395.2 293.3,396.6 309.5,408.8 318.1,413.9 323.5,416 330.6,417.5 339.5,418 345.2,417.5 353.7,415.6 363.4,412.9 390.4,403.6 400.8,398.5 411.2,392.2 429.6,376.8 450,362 465,349.2 485,335.8 501,323.7 511.6,314 533.8,289.7 544.8,278.6 551.9,273.4 554.6,272.2 557.3,272 560,272.3 562.7,273.3 565.7,275.8 566.9,278 568.5,282.1 569.9,289.8 569.8,294 569.1,296.7 561.3,309.6 558.3,318 556.8,325.1 556.3,334.1 557,342.9 558.9,351.5 561.5,358.3 565,364.7 569.3,370.5 575.2,376.7 580.7,381.1 587,384.7 594.7,388.2 600,390.1 612.1,393.5 618.3,394.7 623.6,395.2 642.8,395.3 670.4,394.1 702.3,391.1 729.8,390.3 748,391.1 757.5,392.1 767.5,393.9 771.6,393.9 835,383.5 842.1,382.7 860,381.6 898.1,372.1 907,370.6 914.3,370.3 928,371.1 948.2,373.8 964.7,377.3 1002.8,386.7 1019.7,389.5 1039,391.6M169,387 181,388 188,390.7 191.9,392.9 195.2,395.3 200,401.8 204,405.3 209.2,408.3 214,409.8 223,411.5 235,413 255,413.7 277.5,416.1 283,417.3 287.2,418.6 297.5,423.8 304.2,426.7 312.4,429.8 317.9,431.4 325.1,432.8 333.4,433.6 340.4,433.6 346.1,433 356.8,430.8 366.5,427.7 390,417.2 410.5,407.1 417,403.1 421.8,399.7 441.1,382.5 450.4,375.6 460.5,369.6 469.3,365.5 473.6,364 486.4,360.9 494.3,357.1 501.7,352.3 508.5,346.8 516.9,336.3 519.7,333.5 521.6,332.2 524.6,331.1 529.2,330.6 533,331.5 534.6,333.2 544.5,356 551.5,368.9 558.5,379.4 565.7,386.8 577.1,395.5 582,398.5 587.2,401 597.1,404.1 613.1,408.3 620,409.6 646.5,409.5 657.6,410.1 665,411.6 683.8,417.5 689,418.2 693.2,418.1 702.6,416.2 724.5,408.5 738.3,404.8 769,400.5 794,399.6 802.9,398.9 830,395 854.7,392.2 864.5,390.2 899.6,380.2 908.5,378.6 915.8,378 931.1,378.5 953.9,380.8 966.1,383.1 981.6,387.1 1000,391.2 1039,396.7M712,494 713,494.3 715.3,496 716.5,498 716.2,499 714.2,501.3 712,502.5 709.8,501.3 707.8,499 707.5,498 708.7,496 711,494.3 712,494M169,404 189.2,409.7 211.6,414.3 235,422 253.7,428.9 275.9,433.6 286.7,437.8 290.3,439.7 296.7,444.4 303.2,446.8 309.1,448.1 316.4,449.2 328,449.5 332.7,449 338,447.9 360.5,440.8 364.7,440.1 372.8,439.5 376.7,438.6 391.2,431.5 411.7,422.6 419.6,418.6 429.3,412.5 441.8,403.4 455.9,391 459.5,388.7 464.7,386.6 474.5,384.3 495.2,381.9 509.2,381.1 523.7,381.3 530.4,382.2 532.9,383 536.2,385 540.1,388.4 554.7,404.9 563.6,413.5 567,415.8 577.4,419.8 582.3,422.8 586.9,426.4 592.8,433.3 594.4,437.1 594.4,438.2 593.3,440 590,442.4 578.3,448.5 574.4,450 570.4,451 564.8,450.9 544.8,447.8 542,448.1 538,449.5 532.9,452.6 526.9,457.5 517.8,469.9 515.9,472 513.7,473.6 509.6,475 496,476 480.4,478.9 469.4,482.5 460.6,487.1 454.8,491.4 450,496.3 446,503.1 444.4,507.5 443.9,510.1 444.1,512.8 445.2,515.5 448,519.1 451.7,522.3 455.2,524.4 460.7,527.1 471.2,531.4 479,534.1 488,536 491.9,536.2 494.2,535.8 496.7,534.6 499,532.8 504.6,525.5 507.5,522.8 511.3,521.5 514.2,521.3 517,521.5 519.6,522.3 521.8,523.6 528,530 535.5,536.6 540.2,540.2 543.8,542.4 549.4,544.3 564.2,546.2 572.6,548.7 576,550.9 579,553.6 580.2,555.8 580.6,559.8 579.7,564.2 578,568 575.3,571.4 571,575.2 566.6,577.5 561.5,578.2 544,578 531.1,578.3 524,577.7 511.4,575.1 502.8,574.2 498.5,574.3 495.8,574.9 493.4,576.1 486.5,581.6 484.2,583.1 480.3,584.2 476,584.4 471.7,583.9 467.7,582.7 457.2,577.1 444.2,571.7 434.5,569.7 427.4,569.6 420.3,571.2 410.7,574.9 385,588 367.4,595.1 364.4,597.2 362.9,599.2 362.2,602 362.5,606.1 366.5,616.3 367.8,624.7 368,640.6 367.3,652.3 367.7,656.4 368.5,658.9 370.6,662.6 376.1,668.4 379.3,670.6 383.1,672 387.1,672.5 397.5,672.9 406.1,673.8 413,675 418.3,676.5 423.8,679.1 427.4,681.6 429.3,683.6 432.5,688.1 434.5,690.1 439.2,692.7 444.7,694.7 451.5,696.4 460,697.2 474.5,700.1 480.3,700.5 482.8,700.3 487,699.1 490.8,697.3 493.1,695.5 495.2,693.4 497.4,690.3 501.1,682.2 503.7,673 504.4,665.6 503.3,659.7 498.7,646.5 498.1,642.3 498.4,639.5 500.2,631.9 502.7,626.1 505.8,621.6 507.5,620 509.9,618.7 512.6,618 515.5,617.8 521.4,618.5 527.8,620.8 534.1,624.6 537.4,627.5 540.1,630.8 542,634.9 545.7,645.1 547.7,648.6 552.7,653.6 556.1,655.8 559.7,657.6 565.2,659 583.7,661.9 590.7,662.2 594.9,661.4 600.7,659.4 605.9,656.6 609,654 614,646 622.6,635.9 626,629.2 626.2,626.3 625.8,625.2 624,622.9 618.9,618.1 616.9,615.7 616.3,614.6 616.5,612.5 619,609.6 627,604.1 629,602.2 630.7,599.8 634.6,592.3 641.7,582.4 646.9,573.7 650.4,569.2 673.4,546.5 678.8,542 681.4,540.6 685.7,539.3 699.7,537.2 704.8,536 711.7,533.7 717.1,531.2 723.1,527.1 728.7,522.1 733.4,516.6 736.5,511.6 738.3,507.6 739.6,503.6 740.4,496.5 739.6,489.5 738.2,485.4 736.2,481.5 733.5,477.8 730.5,475 717.8,468.4 709.1,461.9 704.6,457.6 702.8,454.4 702.7,453.4 703.3,451.3 706,448.1 716.7,440.5 721.7,437.5 738.2,429.9 754.5,423.5 772.2,417.4 790,412.1 807.5,408.2 827.1,404.5 860,400 893.7,391 902.5,389.1 910,388 928,387 946.6,387.6 963.3,390.7 981.6,393.5 1004.2,397.8 1039,402.6M509,743 511,740.3 518,727.1 520.9,723.2 523,721.2 527.9,718.4 533.6,716.3 542.1,714.5 548.8,713.9 555.4,714.7 562,716.4 590.3,727.2 596.8,729.3 607.8,731.7 622.2,733.7 644.2,735.2 670.2,735.1 695.8,734.1 727.7,730.9 739.1,730.8 759.2,731.4 771.7,732.3 796.1,735.9 818.5,740.1 824.2,741.5 827.9,743M169,732.5 180.4,733.7 186.2,734.7 212,743M985,743 1001.1,734.3 1012.2,728.9 1017.4,727.4 1029.7,725.6 1039,722.5M318,641 322.3,639.7 325.7,639.7 328.8,640.4 330,641 331.9,642.7 334.2,646.5 335.4,650.7 334.9,654.6 332,660.2 330.1,662.5 328,664 324,664.9 319.5,664.5 316,663 314.5,660.9 313.2,656.5 313.2,650.7 314.8,645.1 316.3,642.7 318,641M169,420.7 183.3,421.6 191.5,423.7 216.1,433.7 234.1,441.8 241.4,445.4 247.4,449.4 251,453.1 252.4,455.8 253.2,458.6 254.4,467.2 253.9,477.3 254,481.6 255.7,488.6 258.5,495.5 261.3,500 265.3,503.7 272.5,507.7 279.4,510.6 283.9,511.4 286.6,511.1 290.4,509.9 294.4,508 306.6,500 315,492.2 329.2,483 343.3,471.6 353.5,466.3 366,461 371.7,459.2 377.5,459.1 383.3,460.5 388.6,463.1 392.8,466.5 396.3,470.9 399.7,477 401.9,484.2 402.8,491.5 402.5,495.7 401.1,501.2 399.3,505.1 397.1,508.5 395.1,510.5 391.6,513.1 387.5,515.2 381.8,517.4 374.9,518.9 360.1,520.7 353.2,522.3 341.3,526.2 323.7,533.4 312.6,536.3 308.2,536.7 304.1,536.7 290,533.7 285.5,533.2 282.6,533.2 278.4,533.8 272.9,535.5 265.8,538.6 237.1,553.6 233,555.2 227.7,556.6 219,558.1 204.6,559.8 169,562.3M437,446 439.7,446.7 442.6,448.3 445,450.2 446,452 445,453.7 442.6,455.5 439.7,456.9 437,457.5 434.3,456.9 431.4,455.5 429,453.7 428,452 429,450.2 431.4,448.3 434.3,446.7 437,446M1039,409.5 1005.6,405.4 980.2,400.6 948.1,395.5 932.6,395.4 914.3,397.1 901.2,399.6 881.4,405.3 838.9,416.5 829,419.6 817.8,423.9 809.6,427.7 804.4,431.5 802.9,433.6 801.6,436.5 800.4,442.5 800.9,446.5 803.2,449.7 809.5,454 822.8,464.6 835.5,476.3 840.2,479.9 848.7,484.9 860.4,490.4 871.4,494.7 881.6,497.5 891,499 914.5,501.1 945,506 958.1,506.9 963.5,506.4 967.8,505.4 983.1,498.7 987.4,497.4 992.7,496.3 1006.9,494.8 1039,493.1M169,451.8 179.5,464 184.8,468.8 189.9,471.7 202.3,477.1 205.7,479.6 210,483.8 214.7,489.6 218,495.7 219.7,501.6 220.2,507 219.9,511.4 218.8,514.2 217.5,516.4 212.4,522.5 207.5,526.2 203.3,527.4 193.3,528.3 185,532.3 169,536.8M1039,424.1 1001.3,416.7 979.8,410.9 959.7,409.5 947.1,406.4 941.6,406.1 935.9,407.1 908.6,414.8 892,418.5 880,421.7 869.2,423.6 864.2,426.6 861.1,429.8 859.3,433.7 858.8,438 859.9,443.2 863.2,449.4 867.7,454.8 873.3,459.8 881.1,465.4 887.3,468.6 893.9,470.9 902.5,472.8 913.2,474 921.5,474 947,472.2 978.1,470.5 1039,468.1M950,439 953,437.6 958,436.8 963,437.6 966,439 963,440.5 958,441.4 953,440.5 950,439"/>
<clipPath id="cpm"><rect x="169" y="105" width="870" height="638"/></clipPath>
<g clip-path="url(#cpm)" fill="none" stroke="#000" stroke-linejoin="round" stroke-linecap="round">
<path stroke-width="1.8" d="M169,594.5 174.8,591.6 180.6,590.2 185.4,589.9 190.8,591 195.6,595.7 198,602.1 202.8,601.5 209.1,600.3 212.5,604.4 216.4,611.9 215.4,621.2 213.9,629.3 212.5,632.8 217.3,643.8 222.7,649.6 227,656 228.4,662.4 231.3,671.1 233.8,680.9 235.7,689.1 234.7,694.3 229.4,705.9 227.5,713.4 226,721.5 226,727.3 228,733.1 231.8,740.7 233.8,745.9M169,418.8 174.8,415.3 183.5,413.6 192.2,413 200.9,412.4 207.7,413 216.4,410.7 218.8,412.4 222.2,412.4 219.8,415.9 221.7,420.5 220.7,425.2 217.8,428.6 222.7,434.4 229.4,436.8 232.8,436.2 242.5,439.7 244.9,444.3 251.2,447.2 258.4,451.3 264.2,449.5 266.1,444.3 266.1,440.8 270.5,436.8 277.8,436.8 280.6,439.1 288.9,442.6 290.8,444.3 299.5,444.9 309.2,447.8 316.4,444.9 319.8,443.7 325.1,445.5 334.3,445.5 336.2,442.6 337.7,436.8 338.6,434.4 341.1,428.6 342.5,422.3 342,415.9 343.5,413 340.1,414.7 336.2,413.6 331.9,417 326.1,417.6 320.8,414.1 316.9,413.6 315.4,416.5 310.6,417 305.8,413.6 300.9,412.4 300.5,408.3 296.6,404.9 298.5,402.5 298.5,398.5 295.6,397.9 295.6,394.4 298.1,392.7 301.9,393.3 309.2,392.7 309.2,389.2 304.3,389.2 299.5,389.8 297.1,391.5 294.7,390.4 290.8,389.8 286.4,389.8 284,390.9 282.6,393.8 279.2,391.5 278.2,393.8 279.7,398.5 281.1,401.4 278.2,404.9 281.6,405.4 285,408.3 280.6,409.5 279.7,415.3 277.8,414.7 274.4,413.6 273.4,408.9 271,407.2 272.9,404.9 269.5,402 266.6,397.3 265.2,395 262.8,392.7 263.2,385.1 261.3,382.8 258.4,380.5 252.1,376.4 248.3,374.7 242.5,370.6 239.1,364.8 236.2,367.2 234.7,365.4 235.2,362.5 231.8,361.9 228.4,364.8 229.4,370.1 234.7,374.7 237.6,381.1 242,384 246.3,384 247.3,387.5 252.1,389.8 258.4,394.4 255.5,393.3 252.1,392.1 248.8,396.7 251.7,400.8 248.8,403.7 246.8,407.2 244.4,405.4 244.9,400.8 244.4,394.4 240.5,391.5 237.2,390.4 234.7,387.5 228.9,385.1 223.1,381.1 219.8,377.6 218.3,372.4 213.5,370.1 208.6,372.4 204.8,373.5 200.9,376.4 197.5,377 194.1,375.9 189.8,374.7 184.5,377 184,381.1 184.5,384 179.6,386.9 173.8,389.2 171.4,392.1 169,396.2M228.9,407.8 233.3,405.4 244.4,404.9 242,409.5 242,414.1 238.1,412.4 229.9,408.9 228.9,407.8M209.6,400.8 212.5,399.6 215.4,397.9 216.4,392.1 214.9,388 211.5,389.2 208.6,389.8 209.6,393.8 210.1,399.1 209.6,400.8M214.4,377.6 214.9,380.5 213.9,386.9 210.6,385.1 211.1,380.5 214.4,377.6M282.6,422.3 287.4,421.7 296.1,422.8 289.8,424.6 282.6,422.3M325.1,424 336.2,419.9 332.9,424.6 326.6,425.7 325.1,424M304.3,385.7 303.9,383.4 302.4,380.5 303.9,376.4 307.2,373 307.7,370.6 312.6,364.8 317.4,357.3 321.2,356.7 326.6,359.6 331.4,359.6 330.4,363.1 326.1,363.7 331.4,368.9 335.8,367.7 340.6,366 345.4,364.3 339.1,361.4 338.2,358.5 346.9,356.1 355.1,353.2 353.6,357.3 350.7,361.4 349.3,366.6 351.7,367.7 360.9,374.1 370.1,385.7 364.8,389.2 360.9,389.2 354.1,389.8 347.8,388 344.4,387.5 339.1,383.4 329.9,383.4 323.7,385.7 319.8,388.6 309.6,388 304.3,385.7M401,358.5 405.8,356.7 413.1,354.4 419.9,353.8 425.2,355.6 425.6,360.2 420.3,363.7 416.9,368.9 412.1,368.3 416.5,374.1 423.2,379.9 424.2,385.1 427.1,387.5 425.2,395 429.5,399.1 429.5,410.7 430,413 420.3,414.7 412.1,410.7 405.8,408.9 405.4,404.3 406.8,400.2 408.2,393.8 410.2,392.7 406.3,387.5 402.4,383.4 398.6,377.6 397.1,370.6 396.2,366 399.6,361.4 401,358.5M450.8,360.2 456.6,356.7 463.8,357.3 466.2,363.1 461.4,370.6 455.1,374.1 450.8,368.9 450.8,360.2M326.1,453 326.6,456.5 331.4,467.5 334.8,475.6 340.6,487.8 347.4,499.4 349.3,507.5 349.8,518 355.1,522.6 359.9,537.1 367.2,544.6 374.4,552.2 378.3,555.1 377.3,559.7 381.7,566.7 386.5,566.7 398.6,562 408.2,560.9 416.5,558.6 415.5,566.7 413.1,574.8 409.7,581.2 403.4,595.1 398.6,600.9 391.3,612.5 387.9,615.4 379.2,624.1 372,632.8 369.1,638 363.3,643.2 360.9,650.2 356.5,661.8 358.9,666.4 359.4,676.3 363.3,687.9 364.8,699.5 365.2,711.1 365.7,714 361.4,722.7 350.2,730.2 340.6,741.8 337.2,745.9M326.6,453.6 331.4,462.3 334.8,465.8 336.2,461.7 337.7,455.9 338.2,457.1 339.6,464 345.4,476.2 349.3,482 353.6,488.4 358,502.3 361.4,505.8 368.1,519.7 374.9,531.9 375.9,541.2 377.8,553.3 386.5,552.8 396.2,548.7 404.4,545.8 406.3,542.9 421.3,536.5 430,529 437.2,525.5 442.1,521.4 448.4,516.8 451.8,508.7 458,497.1 452.2,490.1 444.5,487.8 441.6,483.2 440.6,475 438.7,479.1 436.3,480.8 431.9,485.5 420.3,487.8 418.4,486.1 418.4,480.3 416.5,475.6 414.5,483.7 413.1,479.1 411.6,474.5 408.2,469.8 403.9,464.6 401,457.1 402.9,453 405.8,451.8 412.1,457.1 414.5,460 417.9,465.2 423.2,468.1 432.4,472.7 440.6,469.2 445.5,476.8 453.2,479.1 466.2,481.4 475.9,480.3 485.6,480.3 491.4,480.3 492.8,483.2 495.2,487.8 498.6,490.1 501.5,493.6 507.3,494.8 502.5,497.7 508.8,505.2 514.6,506.4 519.9,502.9 520.9,508.1 520.9,516.8 522.8,528.4 525.2,537.1 528.1,545.8 530.5,552.2 533.9,560.3 537.3,569 543.6,580 547,575.4 551.8,567.3 554.7,559.7 557.1,551 556.6,537.1 561.5,532.5 566.8,528.4 571.6,524.3 579.8,515.6 588.5,508.1 590.5,501.7 595.3,501.1 599.2,500.6 605.5,499.4 612.7,497.7 613.7,505.2 616.6,509.8 620.9,515.1 624.8,522.6 624.3,533.6 629.1,534.8 634,529.6 640.7,531.3 641.2,540 643.6,550.4 645.6,567.8 644.6,577.7 650.9,589.3 653.8,595.7 655.7,604.4 659.1,610.8 664.4,616 669.2,619.5 672.6,618.9 671.2,612.5 668.8,605 667.3,596.3 662.5,591 658.6,587 654.3,585.2 652.8,577.7 651.9,573.1 648.5,567.3 648.5,558.6 651.9,552.8 652.8,548.7 656.7,549.3 656.7,553.3 662.5,556.2 665.9,559.7 669.7,566.1 674.1,566.7 677,577.1 683.3,571.9 685.2,566.7 690,564.4 695.4,560.9 696.8,555.1 697.3,547 695.4,538.3 692,533.6 687.1,529.6 683.8,523.8 680.4,518 682.3,511.6 685.2,506.9 691,502.3 699.2,502.3 702.6,508.7 703.1,504 708.9,501.7 715.6,498.2 721,497.7 727.7,494.8 735.5,490.1 740.3,484.9 746.6,479.1 747.1,473.3 750.5,468.7 753.8,462.9 758.2,454.2 755.3,448.9 758.2,446 754.8,439.7 751.4,433.9 745.6,425.7 750,418.8 752.9,415.9 761.1,411.2 754.8,408.9 750.9,409.5 744.2,411.2 741.8,406 738.4,401.4 744.2,399.1 748,395.6 754.3,389.8 758.2,390.4 760.1,392.1 754.8,397.9 755.3,402 759.6,398.5 769.8,395.6 774.1,397.9 772.2,402 774.1,407.2 780.9,409.5 779.5,414.7 780.9,421.1 779.5,426.3 785.2,426.3 792.5,423.4 794.9,418.2 794.4,412.4 791.5,407.2 789.6,403.1 785.2,399.1 789.1,395 795.9,390.4 796.4,384.6 800.7,381.7 806.5,377 812.3,378.8 823.9,372.4 833.6,363.1 838.4,354.4 847.1,343.4 848.1,334.1 852.4,324.2 852.9,320.2 851.5,317.9 844.2,312.6 833.6,313.8 830.2,310.3 822.5,309.7 834.5,299.9 845.2,292.9 853.4,287.1 861.1,282.5 872.2,282.5 886.8,283.1 897.4,281.3 904.6,283.6 914.3,281.9 919.1,277.3 926.4,270.3 941.4,269.1 944.3,271.5 941.4,275.5 951,277.3 957.8,280.2 952,290.6 937.5,296.4 927.8,308 924,322.5 926.4,331.2 935.6,319.6 942.3,310.9 952,301 958.3,291.8 962.6,283.6 972.8,276.7 990.7,279 1002.8,272 1012.4,268.6 1026.9,264.5 1036.6,262.8 1039,252.9M169,340.5 170,338.7 176.7,335.8 176.7,331.8 181.1,330.6 183.5,330 185.9,327.7 189.3,325.4 192.2,322.5 193.2,318.4 200.4,317.9 202.8,317.3 207.7,316.1 210.6,314.4 212,312.1 210.6,305.7 208.2,304.5 208.6,298.1 210.6,295.8 216.8,292.9 220.2,292.3 218.8,296.4 218.8,301 221.7,299.9 218.3,304.5 216.4,308 217.3,309.2 221.7,311.5 227,312.6 234.2,312.1 237.2,314.4 240.1,313.8 251.2,310.3 258.4,309.7 259.4,311.5 263.7,311.5 268.1,308.6 271,303.9 270.5,299.3 273.4,294.7 278.2,292.3 281.1,295.8 285.5,296.4 286.4,293.5 286.9,288.9 282.6,288.3 282.6,284.8 288.4,282.5 294.7,281.3 304.3,281.9 314,279.6 306.8,275.5 299.5,276.1 289.4,277.8 276.3,276.7 272.9,274.4 272.4,269.7 272.9,261 280.2,257 287.4,254.1 291.8,250 286,245.4 277.8,245.4 272.9,250 268.1,255.8 260.4,258.7 253.1,265.7 252.1,274.9 258.4,277.3 256,283.1 249.2,288.9 248.3,298.1 240.5,301 238.1,304.5 231.3,305.7 230.9,301 226.5,292.3 223.1,284.2 220.7,279.6 219.8,283.6 214.9,285.4 207.7,290 201.9,290 196.6,285.4 194.6,281.9 193.7,276.7 193.2,272 194.1,267.4 200.4,263.9 205.2,261.6 210.6,258.7 217.3,255.8 221.2,251.7 228.4,246.5 232.8,240.7 239.1,236.1 242.9,232 246.3,229.1 253.6,225.6 258.4,222.2 266.6,220.4 272.9,219.3 282.6,216.4 293.7,214.6 304.3,215.2 314,218.7 318.8,221.6 328.5,224.5 343,226.8 357.5,230.9 367.2,234.9 362.3,242.5 355.1,243.6 343,240.7 337.2,241.3 328.5,241.3 326.6,245.4 335.8,252.9 347.8,256.4 352.7,252.3 364.8,252.9 369.6,245.9 376.8,242.5 381.7,230.3 378.3,229.1 389.9,234.3 396.2,234.9 410.7,232.6 425.2,230.9 432.4,227.4 449.3,228 459,227.4 463.8,222.7 480.8,224.5 492.8,228 500.1,231.4 502.5,218.1 491.9,217.5 495.2,212.3 502.5,204.8 514.6,201.9 520.9,206.5 519.4,215.2 524.2,229.7 519.9,241.3 529.1,235.5 531.5,226.8 525.7,221 533.9,212.3 541.2,208.2 548.4,207.7 558.1,200.7 560.5,206.5 558.1,210 567.8,215.2 572.6,221 575,212.3 584.7,200.7 589.5,197.8 604,189.1 628.2,186.2 642.7,183.9 657.2,181 671.7,176.3 681.3,178.7 688.6,182.1 705.5,182.1 717.6,187.4 715.2,197.8 710.3,199.5 729.7,200.1 742.7,200.7 763.5,201.3 782.8,200.1 792.5,207.1 794.9,214 804.6,215.8 821.5,211.7 836,212.3 845.7,207.1 850.5,204.8 869.8,207.7 894,211.7 906.1,215.8 927.8,215.2 942.3,217.5 952,223.3 961.7,222.7 976.2,222.2 990.7,220.4 1005.2,222.2 1019.7,222.2 1032.7,224.5 1039,227.4M169,316.1 170.4,317.3 175.3,320.2 177.2,321.9 176.7,325.4 173.8,327.7 175.8,329.5 173.8,331.2 169,332.4M220.7,165.9 227,163.6 236.7,164.2 248.8,163 258.4,161.3 270.5,161.3 282.6,162.4 299.5,163 294.7,167.1 275.3,171.1 272.9,175.8 258.4,180.4 246.3,182.7 236.7,178.7 227,173.4 222.2,170 220.7,165.9M268.1,171.1 280.2,172.9 272.9,178.1 268.1,175.8 268.1,171.1M386.5,159.5 401,161.3 420.3,162.4 434.8,161.3 449.3,159.5 468.7,158.4 483.2,156 459,152.6 434.8,154.3 410.7,157.2 386.5,159.5M422.8,213.5 432.4,216.9 445.9,217.5 442.1,211.1 438.7,204.8 442.1,200.1 451.8,194.3 459,188.5 475.9,184.5 500.1,181 492.8,185 478.3,188.5 466.2,192 454.2,197.8 446.9,203.6 443.5,210 429,210.6 422.8,213.5M546,158.9 558.1,157.8 553.2,160.7 546,158.9M608.8,165.9 628.2,156 637.8,158.9 652.3,165.9 666.8,167.1 674.1,170 657.2,173.4 642.7,170 628.2,168.8 608.8,165.9M826.3,189.1 838.4,186.8 855.3,188.5 874.7,189.7 896.4,190.3 884.3,193.2 860.2,201.9 840.8,200.7 836,194.9 826.3,189.1M1031.8,214 1039,212.3 1039,215.8 1033.2,216.4 1031.8,214M311.6,271.5 318.8,269.1 327.5,274.4 323.7,279 315.4,279.6 311.6,271.5M334.3,263.9 340.6,262.2 344.9,271.5 340.6,273.8 335.8,269.7 334.3,263.9M670.7,327.7 676.5,325.4 683.8,320.2 691,314.4 697.3,304.5 698.7,308 693.4,316.7 686.2,323.7 676.5,328.9 670.7,327.7M524.2,361.4 531.5,356.7 541.2,357.3 550.8,357.9 546,361.4 533.9,361.9 526.7,366 524.2,361.4M322.7,625.8 328.5,624.7 333.3,625.8 336.7,632.8 332.4,640.3 325.1,642.1 321.7,635.1 322.7,625.8M310.1,646.1 312.1,656 311.6,664.7 316.4,670.5 318.8,677.5 316.9,676.3 314,664.7 311.1,653.1 310.1,646.1M334.3,682.7 336.7,690.8 337.7,699.5 339.6,709.9 336.2,705.3 334.3,696.6 334.3,682.7M234.2,544.1 239.1,549.9 237.6,552.8 233.3,548.7 234.2,544.1M855.3,360.2 862.6,357.3 860.2,351.5 858.7,342.8 861.1,341.1 866.9,342.2 861.6,329.5 861.1,321.9 859.2,312.1 856.3,313.2 854.4,319 855.3,328.3 854.9,337 855.8,345.7 854.9,352.7 855.3,360.2M845.7,386.9 846.1,382.2 844.7,379.9 847.6,376.4 852,376.4 853.4,370.1 854.9,364.3 859.7,368.3 866,372.4 871.3,370.6 872.2,375.9 862.1,384 854.9,380.5 851,384.6 848.1,385.7 845.7,386.9M845.7,386.9 847.1,392.1 845.7,396.2 845.2,401.4 841.8,406.6 838.4,410.7 832.6,413 830.2,410.7 827.8,416.5 825.9,420.5 821,420.5 812.3,420.5 807.5,422.8 803.1,427.5 802.2,429.8 808,430.4 813.3,428.1 817.6,426.3 822.5,426.3 823.4,431.5 826.3,432.1 830.2,428.1 832.6,426.3 837,426.3 840.4,423.4 844.7,422.3 847.1,423.4 850,417 850.5,409.5 852.9,404.3 855.3,398.5 852.9,392.1 852.4,386.9 849.5,388 845.7,386.9M809.4,435.6 811.8,429.8 819.6,428.6 820,431 817.6,433.9 811.8,436.8 809.4,435.6M795.4,433.9 798.8,430.4 802.2,430.4 805.5,433.9 806.5,439.1 803.6,444.9 800.2,446.6 798.3,444.3 798.3,437.9 795.4,433.9M753.8,480.3 758.7,482 756.2,490.7 752.9,499.4 750,494.8 749.5,488.4 753.8,480.3M694.4,515.6 700.7,510.4 705.5,512.7 703.1,519.1 698.2,521.4 694.4,519.7 694.4,515.6M555.2,570.2 559.5,573.1 564.9,583.5 562,591 556.1,592.2 554.7,586.4 555.2,570.2M617,548.1 618.5,554.5 616.6,562 616.1,554.5 617,548.1M407.3,696.6 411.6,714 409.7,722.7 407.8,731.4 404.9,745.9 403.4,748.8 379.2,748.8 380.7,740.1 383.6,734.3 381.7,725.6 384.1,721 391.3,718.1 398.6,711.7 401,705.3 407.3,696.6M426.6,553.9 432.4,553.3 431,555.7 426.6,553.9M751.9,519.7 759.6,519.7 758.7,528.4 756.7,534.2 756.7,540 759.6,545.8 765.9,547 769.3,551.6 763.5,551.6 757.7,547 751.9,542.9 749,534.2 750.9,528.4 751.9,519.7M758.2,587 758.7,580.6 766.9,577.7 771.7,575.4 775.6,570.7 780.4,577.7 779.5,587.6 775.1,594.5 768.3,588.7 764.5,582.9 758.2,587M769.8,554.5 774.6,556.2 777,563.2 773.2,569 769.8,563.2 769.8,554.5M763,563.8 765.9,566.7 763,574.2 761.1,569.6 763,563.8M766.9,562 768.3,566.1 765.4,571.9 765,566.7 766.9,562M758.2,558 763,560.9 758.7,566.1 758.2,558M735.5,578.3 741.8,573.1 746.6,566.1 747.5,560.9 743.2,567.8 735.5,578.3M695.8,618.3 698.7,614.8 705.5,616.6 715.2,608.4 720,600.3 726.8,598 729.7,592.2 734.5,586.4 737.9,591 745.1,596.3 739.3,599.2 738.4,606.7 739.3,615.4 744.2,621.2 739.3,625.3 736.9,631.6 732.6,635.7 731.1,647.3 722.9,651.4 715.2,645.6 708.9,647.3 701.6,643.8 700.7,635.7 695.8,628.2 695.8,618.3M629.1,594.5 640.2,596.8 646,605.5 654.3,614.2 659.6,617.1 670.2,627 674.1,636.3 680.4,643.8 681.3,660.6 678,660.6 674.1,661.2 663.5,650.2 657.2,640.3 653.8,631.6 647.5,621.2 645.1,615.4 637.8,607.3 633,600.9 629.1,594.5M677.5,666.4 681.3,661.8 692.5,663 702.6,667 707.9,665.3 713.2,667 721.9,671.7 722.4,677.5 712.8,675.7 700.7,674.6 691,672.2 683.8,669.9 677.5,666.4M722.4,674 728.2,675.7 725.8,678 722.4,674M730.1,675.1 733,675.7 731.1,678.6 730.1,675.1M733.5,676.3 744.2,674.6 742.7,678 734.5,679.2 733.5,676.3M748,676.9 763,674 761.6,678 749,678 748,676.9M744.2,682.7 752.9,684.4 750,686.7 744.2,682.7M765.9,686.7 773.2,679.2 784.3,675.7 780.4,678.6 770.8,685.6 765.9,686.7M749,622.9 756.2,620.6 763.5,621.8 770.8,620 774.1,617.7 769.8,624.7 763.5,624.7 753.8,624.1 750.5,631.1 756.2,632.8 765,632.2 756.2,638 762.5,651.4 761.6,658.9 756.2,653.7 753.8,644.4 751.4,643.2 750.9,658.9 746.1,658.9 746.1,647.3 743.2,642.1 748,631.6 749,622.9M785.7,614.2 787.7,621.2 791,619.5 787.7,624.1 792,630.5 786.7,628.7 784.8,624.1 785.7,614.2M787.7,645.6 801.2,645 800.2,649 788.6,647.9 787.7,645.6M778,645 783.8,646.1 782.4,649 778.5,648.5 778,645M802.2,634.5 809.4,629.3 817.6,632.2 816.7,642.7 823.9,646.1 833.6,635.7 843.2,639.2 850.5,642.1 862.6,646.7 873.7,657.2 881.9,663 883.9,666.4 880,669.9 885.3,676.9 890.6,682.7 897.9,688.5 889.2,686.7 881,685 874.7,675.7 867.4,671.1 862.6,679.2 850.5,679.8 840.8,674 836,675.7 835,667.6 839.9,666.4 836,658.9 821.5,652.5 813.3,650.2 808.5,643.8 814.2,640.9 806,639.2 802.2,634.5M886.8,658.9 895,658.3 901.2,651.4 905.1,652.5 901.2,658.9 894,663.5 886.8,658.9M896.4,641.5 903.7,645.6 908.5,653.1 907,654.8 901.2,647.3 896.4,641.5M917.2,657.7 921.5,663.5 918.2,664.7 917.2,657.7M925.4,667.6 939.9,673.4 944.8,676.3 949.6,682.1 953.5,689.6 942.3,682.1 930.2,673.4 925.4,667.6M974.2,711.7 977.1,714 976.2,717.5 974.2,711.7M977.1,719.8 982.5,722.7 983.4,729.7 978.6,725.6 977.1,719.8M1026,727.9 1031.8,727.3 1032.2,731.4 1026.9,732 1026,727.9M1032.2,722.7 1039,721 1036.6,724.4 1032.2,722.7M961.7,743 968.9,748.8 973.8,753.4 966.5,748.8 961.7,743M719,754.6 721,753.4 732.1,746.5 744.2,743 753.8,740.1 759.6,731.4 763,722.7 770.8,722.1 775.6,714 781.9,707.6 787.7,713.4 794.9,713.4 796.4,705.3 798.8,699.5 801.2,698.9 809.4,694.3 816.7,696.6 825.4,698.3 830.2,697.8 828.8,704.1 823.9,712.8 834.5,721 843.2,728.5 850.5,723.3 853.4,711.1 852.9,699.5 857.8,689.1 862.6,699.5 864,708.2 871.3,714 872.2,725.6 876.1,737.2 887.7,744.2 891.6,751.7 895,754.6M650.4,413 653.8,411.8 655.7,413.6 653.3,414.7 650.4,413M537.3,379.9 543.6,379.3 547.9,381.7 542.1,382.2 537.3,379.9M339.1,605 343.5,600.9 345.9,608.4 343.5,613.7 342,609.6 339.1,605"/>
<path stroke-width="1.62" d="M210.6,413 209.1,424 205.2,432.7 214.9,451.8 217.3,453 216.4,464.6 214.9,473.3 218.8,484.9 226.5,490.7 236.7,493.6 241.5,493.6 285,513.9 285,511 289.8,511 289.8,499.4 289.8,453 290.3,443.7M289.8,499.4 320.8,499.4 347.4,499.4M226.5,490.7 205.2,506.4 197,514.5 189.3,515.6 184.9,516.8 174.3,506.9 169,502.3M189.3,515.6 189.3,531.9 186.4,537.1 173.8,540 170,540.6 169,540M170,540.6 170.9,545.8 174.8,550.4 179.6,553.9 182.5,555.1 186.4,559.1 188.3,548.7 198,548.1 207.7,549.9 217.3,550.4 228.4,550.4 234.7,547.5 243.9,529 245.4,511 245.8,493.6M186.4,559.1 186.9,566.7 182.1,574.2 182.1,590.5M176.7,591 176.7,574.8 172.9,563.2 169,563.2M174.8,591.6 171.4,583.5 171.4,571.9 170,563.2M237.6,551.6 234.2,566.1 227,580.6 222.2,589.3 216.4,592.2 210.6,600.3M237.6,551.6 239.1,554.5 241.5,568.4 239.1,571.9 243.9,583.5 258.9,580.6 273.4,573.6 279.2,563.8 277.3,553.3 277.8,545.8 285,535.9 285,513.9M243.9,583.5 238.6,598 247.3,614.2 233.3,614.2 223.6,614.2 216.4,613.7M223.6,614.2 223.6,621.2 214.4,621.2M233.3,614.2 239.1,621.8 235.7,629.9 239.1,640.9 229.4,640.9 222.7,649.6M279.2,563.8 282.6,574.8 289.8,583.5 301.4,598 289.8,598 277.8,602.6 268.1,600.9 258.9,606.1 254.6,627 247.8,638.6 242.9,651.9 232.3,653.7 228,660.6M247.3,614.2 256,606.7 258.9,606.1M345.4,544.1 343,553.3 338.2,563.2 334.8,569 333.8,577.1 328.5,581.8 338.2,595.1 342.5,600.3M345.4,544.1 352.7,542.3 362.3,543.5 373.9,554.5 375.9,560.3 377.8,560.9M375.9,563.2 381.7,574.8 400.5,580.6 386,598 376.8,602.6 371.5,603.8 367.2,610.8 367.2,636.9 370.1,636.9M371.5,603.8 359.9,606.7 352.2,603.8 342.5,600.3 333.3,602.6 338.2,606.7 335.8,621.2 333.3,627 333.3,632.8 350.2,647.3 358.5,654.3M301.4,598 317.9,606.7 333.3,602.6M317.9,606.7 313,627 312.1,635.1 309.2,635.1 309.2,643.2 312.1,643.2 316.4,640.9 317.9,632.8 321.7,632.8M309.2,643.2 310.6,647.3 316.4,647.3 317.9,640.9M317.4,675.1 328.5,682.1 333.3,682.1M336.2,693.7 350.2,694.3 364.8,687.3M317.4,675.1 308.2,676.3 306.8,690.8 313,697.8 311.6,704.1 301.9,698.3 289.8,692.5 285,690.8 275.3,690.8 274.4,669.3 260.8,667.6 253.6,673.4 246.3,661.8 228,660.6M285,690.8 285,702.4 275.3,702.4 275.3,719.8 282.1,729.1 270.5,731.4 258.4,727.9 236.7,727.9 226,727.3M282.1,729.1 291.3,730.2 304.3,722.7 315.9,717.5 326.1,722.7 328.5,734.3 326.1,743 320.3,756.9M328.5,682.1 329.5,696.6 328.5,708.2 315.9,717.5M328.5,708.2 335.8,711.1 339.6,722.7 342.5,713.4 339.6,709.9M291.3,730.2 299.5,743 304.3,751.7M258.4,727.9 265.7,731.4 270.5,733.1 270.5,754.6M343.5,413 347.8,414.7 355.1,413.6 362.3,411.8 373.4,411.2 382.6,411.2 385.5,411.2 383.1,404.3 383.6,397.9 379.2,389.8 374.4,386.9 370.1,385.7M373.4,411.2 369.1,415.3 367.2,427.5 357.5,439.7 356.5,433.3 346.9,439.7 341.1,437.3 341.1,433.9 343.5,431 345.9,428.1 343,426.3M341.1,433.9 338.6,435M337.7,455.9 340.6,450.1 340.6,444.3 341.1,437.3M334.3,445.5 337.7,455.9M357.5,439.7 347.8,444.3 352.7,450.1 350.2,453.6 343,457.6 338.2,457.1M357.5,439.7 372,446.6 385.1,457.6 393.8,458.2 399.6,461.7 402.9,461.7M393.8,458.2 398.1,453 401,453M385.5,411.2 388.9,418.2 391.3,424 388.9,429.8 391.8,435.6 400,442.6 401,450.1M436.8,495.3 423.2,494.2 418.4,486.1M436.8,495.3 435.8,499.4 438.2,505.2 434.8,511 420.3,516.8 419.9,522.6 421.3,530.7 425.6,530.7M421.3,530.7 415.5,518 406.3,519.1 396.2,529 392.8,527.2 385.1,526.1 377.8,530.1 375.9,531.9M439.7,487.2 438.7,482.6 441.6,476.2M405.4,404.3 401,401.4 393.8,401.4 385.5,396.7M430,410.7 437.2,406.6 445.9,405.4 454.2,409.5 461.4,414.7 464.8,414.7 464.3,420.5 462.9,427.5 461.4,432.1 463.4,444.3 467.2,445.5 463.4,454.2 471.1,456.5 475.9,455.9 472.5,463.4 467.7,472.7 466.7,480.8M463.4,454.2 478.3,456.5 489.4,453.6 492.4,445.5 497.7,443.1 503.9,442 504.9,435.6 508.8,430.4 512.2,429.8 513.1,422.8 515.1,415.9 521.8,413.6 529.1,411.8 531.5,412.4M464.8,414.7 471.1,422.3 480.8,416.5 486.6,409.5 496.7,411.2 503.9,411.8 509.8,406.6 514.1,412.4 531,411.2M504.9,470.4 507.3,464.6 512.2,465.2 521.8,453.6 529.1,447.2 529.6,438.5 533.9,436.2 526.7,425.2 533,419.4 545,421.1 550.8,428.1 548.4,437.9 553.2,447.8 560.5,451.8 572.6,457.6 582.2,462.9 594.3,465.2 598.2,468.7 601.6,464.6 613.7,467.5 625.8,458.8 633,456.5 639.3,463.4 635.4,469.2 629.1,472.7 623.3,482 619.5,494.8 616.6,503.5M504.9,470.4 504.9,476.2 510.2,477.9 512.2,484.9 504.9,486.1 501.1,489 498.6,490.1M556.1,460 560,460 565.3,465.2 575,468.7 582.2,472.1 591,473.9 594.3,472.7 594.8,465.2M598.2,468.7 603,472.1 613.7,471 613.7,467.5M594.8,473.9 596.8,479.1 598.7,482 595.3,484.9 597.7,493.6 599.2,500M603,472.1 606.4,476.2 613.7,480.8 615.6,486.6 610.3,490.7 612.7,497.7 615.1,502.3 616.6,503.5M591,341.6 584.7,345.7 582.2,353.8 570.2,353.2 566.8,363.1 555.7,366 556.6,382.2 550.8,384.6 543.6,389.2 536.3,392.7 526.7,397.9 524.7,403.1 531,411.2M591,341.6 601.6,339.9 608.8,334.1 623.3,337 635.4,337.6 642.7,328.3 652.3,326.6 663,330 669.2,335.8 681.3,335.3 691,341.1 703.1,341.6 715.2,339.3 723.4,335.8 733,337.6M591,341.6 596.8,346.9 606.4,351.5 608.8,360.2 620.9,366.6 633,370.6 640.2,379.3 652.3,379.9 671.7,384.6 678.9,385.7 691,381.1 703.1,380.5 710.3,374.1 709.4,366 717.6,367.2 727.2,363.1 736.4,356.7 746.6,354.4 741.8,349.2 733.5,338.2 733,337.6M733,337.6 738.4,339.9 745.6,335.3 751.4,322.5 758.7,317.3 772.2,319 780.4,325.4 785.2,337 799.8,343.4 809.4,349.8 820,346.9 814.2,361.4 803.6,366.6 802.2,378.2 800.2,381.1M769.8,395.6 778,389.8 785.2,385.7 789.1,383.4 795.9,381.1 800.2,381.1M778.5,406.6 782.8,405.4 789.6,403.1M546,421.1 553.2,424 556.6,420.5 550.8,428.1M639.3,463.4 645.1,467.5 646,476.8 641.2,483.2 647,487.2 649,498.8 654.8,502.3 657.6,500.6 661,504 662.5,497.1 666.8,496.5 671.7,494.8 678.9,492.4 684.7,494.8 690.5,501.7M652.8,508.7 654.8,511 658.6,513.9 656.7,524.9 662.5,521.4 668.3,520.3 675,526.1 679.4,535.4 678.9,544.1 671.7,543.5 666.8,544.6 663.9,551.6 664.9,556.2M657.6,500.6 661,504 658.6,513.9M662.5,497.1 666.8,502.3 671.7,506.9 675.5,512.7 671.7,516.8 679.9,525.5 685.2,532.5 688.6,541.2 688.6,548.7M688.6,548.7 681.3,547 678.9,544.1M688.6,548.7 686.2,557.4 680.9,563.2 674.1,566.7M649,498.8 649.9,509.3 652.8,508.7M649.9,509.3 645.1,513.3 641.7,519.7 645.1,529.6 647.5,537.1 648.5,545.8 648.5,557.4 649,569 645.6,567.8M652.8,589.3 657.6,594.5 662.5,591M698.7,614.8 707.9,621.2 720,618.3 727.2,606.7 729.7,602.1 736.9,602.1 739.3,599.2M721,600.3 724.8,598.6 725.8,602.1 722.4,603.2 721,600.3M850.5,642.1 850.5,667 851,679.8M181.1,330.6 188.3,335.3 192.2,335.8 197,339.9 199.9,339.9 208.6,342.8 205.7,350.9M197,339.9 198.5,333.5 198.5,328.3 201.9,325.4 202.8,317.9M185.9,327.7 191.2,328.9 197.5,329.5 198.5,333.5M198.5,359 198.5,354.4 202.8,351.5 205.7,350.9 214.9,350.9 219.8,352.7 228,350.3 231.8,351.5 231.8,346.9 235.7,344 229.4,339.9 227.5,335.3 238.1,331.2 241,331.2 239.6,322.5 237.6,319.6 237.6,314.4M198.5,359 201.9,360.2 203.3,364.3 200.9,368.9 205.2,373M201.9,360.2 209.6,358.5 212.5,360.2 219.3,356.7 228.9,353.8 235.2,357.3 246.3,356.7 246.8,350.3 251.7,348.6 250.7,345.1 241.5,342.8 235.7,344M241,331.2 249.2,335.8 259.9,337.6 263.2,339.3 270.5,340.5 278.2,342.2 285,332.4 283.1,327.7 282.6,319.6 282.6,313.8 279.2,311.5 263.7,311.5M251.7,348.6 259.9,349.8 265.7,348.6 272.9,345.7 278.2,342.2M246.8,350.3 248.8,357.3 253.6,360.8 260.4,360.8 267.1,359.6 271.9,356.7 275.3,350.3 279.7,348.6 278.2,342.2M234.7,363.1 242.5,363.1 246.3,356.7M242.5,363.1 250.7,364.8 260.8,366.6 262.8,370.6 258.4,377.6 253.6,378.2M245.4,368.3 248.8,364.8M260.8,366.6 267.1,359.6M262.8,370.6 263.7,376.4 261.3,382.8M263.7,376.4 267.1,378.8 268.6,384 268.1,389.8 270.5,391.5 269.1,395 266.1,397.3M268.1,389.8 275.3,388.6 280.2,386.9 286,386.3 294.7,385.1 297.6,387.5 295.1,391.5M272.9,381.7 277.3,381.7 280.2,374.7 278.7,370.6 277.3,367.7 272.4,367.2 267.1,359.6M278.7,370.6 285,373.5 293.2,373.5 299.5,371.2 307.2,373M294.7,385.1 299.5,383.4 304.3,383.4M304.3,276.1 314,270.3 321.2,262.2 314,257 314,250 309.2,244.2 313.5,235.5 307.2,231.4 306.8,226.8 309.2,222.2 317.9,222.2M306.8,226.8 299.5,221.6 289.8,229.1 280.2,229.1 270.5,226.2 268.1,226.8 275.3,229.7 283.1,233.2 286,245.4M268.1,226.8 256,229.7 248.8,235.5 243.9,243 236.7,252.9 234.7,255.8 228,261.6 228.9,270.3 230.9,276.1 227,279.6 224.1,284.8 223.1,284.2M279.7,348.6 289.4,350.3 297.6,346.9 301.4,350.9 305.3,357.3 305.3,363.1 308.2,364.3 312.6,364.3"/>
<path stroke-width="1.2" d="M873.6,373a1.1,1.1 0 1,0 2.2,0a1.1,1.1 0 1,0 -2.2,0M879.4,369.5a1.1,1.1 0 1,0 2.2,0a1.1,1.1 0 1,0 -2.2,0M884.7,366a1.1,1.1 0 1,0 2.2,0a1.1,1.1 0 1,0 -2.2,0M891,361.9a1.1,1.1 0 1,0 2.2,0a1.1,1.1 0 1,0 -2.2,0M896.8,358.5a1.1,1.1 0 1,0 2.2,0a1.1,1.1 0 1,0 -2.2,0M902.6,353.8a1.1,1.1 0 1,0 2.2,0a1.1,1.1 0 1,0 -2.2,0M908.4,347.4a1.1,1.1 0 1,0 2.2,0a1.1,1.1 0 1,0 -2.2,0M912.2,344a1.1,1.1 0 1,0 2.2,0a1.1,1.1 0 1,0 -2.2,0M916.1,339.9a1.1,1.1 0 1,0 2.2,0a1.1,1.1 0 1,0 -2.2,0M919.5,336.4a1.1,1.1 0 1,0 2.2,0a1.1,1.1 0 1,0 -2.2,0M923.4,332.9a1.1,1.1 0 1,0 2.2,0a1.1,1.1 0 1,0 -2.2,0M867.8,549.3a1.1,1.1 0 1,0 2.2,0a1.1,1.1 0 1,0 -2.2,0M872.1,538.8a1.1,1.1 0 1,0 2.2,0a1.1,1.1 0 1,0 -2.2,0M977.5,573.6a1.1,1.1 0 1,0 2.2,0a1.1,1.1 0 1,0 -2.2,0M988.1,592.8a1.1,1.1 0 1,0 2.2,0a1.1,1.1 0 1,0 -2.2,0M995.9,585.8a1.1,1.1 0 1,0 2.2,0a1.1,1.1 0 1,0 -2.2,0M983.3,601.5a1.1,1.1 0 1,0 2.2,0a1.1,1.1 0 1,0 -2.2,0M818,583.5a1.1,1.1 0 1,0 2.2,0a1.1,1.1 0 1,0 -2.2,0M901.6,584.1a1.1,1.1 0 1,0 2.2,0a1.1,1.1 0 1,0 -2.2,0M932.5,587a1.1,1.1 0 1,0 2.2,0a1.1,1.1 0 1,0 -2.2,0M955.7,596.3a1.1,1.1 0 1,0 2.2,0a1.1,1.1 0 1,0 -2.2,0M974.6,629.9a1.1,1.1 0 1,0 2.2,0a1.1,1.1 0 1,0 -2.2,0M619.8,580.6a1.1,1.1 0 1,0 2.2,0a1.1,1.1 0 1,0 -2.2,0M621.3,586.4a1.1,1.1 0 1,0 2.2,0a1.1,1.1 0 1,0 -2.2,0M616.4,573.6a1.1,1.1 0 1,0 2.2,0a1.1,1.1 0 1,0 -2.2,0M357.8,663a1.1,1.1 0 1,0 2.2,0a1.1,1.1 0 1,0 -2.2,0M359.8,657.2a1.1,1.1 0 1,0 2.2,0a1.1,1.1 0 1,0 -2.2,0M377.2,694.3a1.1,1.1 0 1,0 2.2,0a1.1,1.1 0 1,0 -2.2,0M382,697.8a1.1,1.1 0 1,0 2.2,0a1.1,1.1 0 1,0 -2.2,0M815.6,632.8a1.1,1.1 0 1,0 2.2,0a1.1,1.1 0 1,0 -2.2,0M822.8,632.8a1.1,1.1 0 1,0 2.2,0a1.1,1.1 0 1,0 -2.2,0M902.6,682.1a1.1,1.1 0 1,0 2.2,0a1.1,1.1 0 1,0 -2.2,0M914.6,692.5a1.1,1.1 0 1,0 2.2,0a1.1,1.1 0 1,0 -2.2,0M896.3,680.9a1.1,1.1 0 1,0 2.2,0a1.1,1.1 0 1,0 -2.2,0M909.8,688.5a1.1,1.1 0 1,0 2.2,0a1.1,1.1 0 1,0 -2.2,0M936.4,658.9a1.1,1.1 0 1,0 2.2,0a1.1,1.1 0 1,0 -2.2,0M967.8,687.9a1.1,1.1 0 1,0 2.2,0a1.1,1.1 0 1,0 -2.2,0M979.9,699.5a1.1,1.1 0 1,0 2.2,0a1.1,1.1 0 1,0 -2.2,0M988.6,740.1a1.1,1.1 0 1,0 2.2,0a1.1,1.1 0 1,0 -2.2,0M1003.6,618.9a1.1,1.1 0 1,0 2.2,0a1.1,1.1 0 1,0 -2.2,0M1004.1,628.7a1.1,1.1 0 1,0 2.2,0a1.1,1.1 0 1,0 -2.2,0"/>
<path stroke-width="3.6" d="M196.6,285.4 194.6,281.9 193.7,276.7 193.2,272 194.1,267.4 200.4,263.9 205.2,261.6 210.6,258.7 217.3,255.8 221.2,251.7 228.4,246.5 232.8,240.7 239.1,236.1 242.9,232 246.3,229.1 253.6,225.6 258.4,222.2 266.6,220.4 272.9,219.3 282.6,216.4 293.7,214.6 304.3,215.2"/>
</g>

<rect x="250" y="188.5" width="34.3" height="14.4" fill="#fff"/><text x="251.6" y="202.0" font-size="14.3" class="t" textLength="31" lengthAdjust="spacingAndGlyphs">5600</text>
<rect x="262" y="199.5" width="34.3" height="14.4" fill="#fff"/><text x="263.6" y="213.0" font-size="14.3" class="t" textLength="31" lengthAdjust="spacingAndGlyphs">5600</text>
<rect x="503" y="146" width="34.3" height="14.4" fill="#fff"/><text x="504.6" y="159.5" font-size="14.3" class="t" textLength="31" lengthAdjust="spacingAndGlyphs">5520</text>
<rect x="515" y="157.2" width="34.3" height="14.4" fill="#fff"/><text x="516.6" y="170.7" font-size="14.3" class="t" textLength="31" lengthAdjust="spacingAndGlyphs">5600</text>
<rect x="539.2" y="174.2" width="34.3" height="14.4" fill="#fff"/><text x="540.8000000000001" y="187.7" font-size="14.3" class="t" textLength="31" lengthAdjust="spacingAndGlyphs">5680</text>
<rect x="382.8" y="237" width="34.3" height="14.4" fill="#fff"/><text x="384.40000000000003" y="250.5" font-size="14.3" class="t" textLength="31" lengthAdjust="spacingAndGlyphs">5520</text>
<rect x="346.5" y="350" width="34.3" height="14.4" fill="#fff"/><text x="348.1" y="363.5" font-size="14.3" class="t" textLength="31" lengthAdjust="spacingAndGlyphs">5600</text>
<rect x="346.5" y="368.5" width="34.3" height="14.4" fill="#fff"/><text x="348.1" y="382.0" font-size="14.3" class="t" textLength="31" lengthAdjust="spacingAndGlyphs">5680</text>
<rect x="322.3" y="411.5" width="34.3" height="14.4" fill="#fff"/><text x="323.90000000000003" y="425.0" font-size="14.3" class="t" textLength="31" lengthAdjust="spacingAndGlyphs">5760</text>
<rect x="298" y="442.3" width="34.3" height="14.4" fill="#fff"/><text x="299.6" y="455.8" font-size="14.3" class="t" textLength="31" lengthAdjust="spacingAndGlyphs">5840</text>
<rect x="540" y="268.3" width="34.3" height="14.4" fill="#fff"/><text x="541.6" y="281.8" font-size="14.3" class="t" textLength="31" lengthAdjust="spacingAndGlyphs">5760</text>
<rect x="479" y="468.2" width="34.3" height="14.4" fill="#fff"/><text x="480.6" y="481.7" font-size="14.3" class="t" textLength="31" lengthAdjust="spacingAndGlyphs">5840</text>
<rect x="527" y="571.7" width="34.3" height="14.4" fill="#fff"/><text x="528.6" y="585.2" font-size="14.3" class="t" textLength="31" lengthAdjust="spacingAndGlyphs">5840</text>
<rect x="382" y="664.5" width="34.3" height="14.4" fill="#fff"/><text x="383.6" y="678.0" font-size="14.3" class="t" textLength="31" lengthAdjust="spacingAndGlyphs">5840</text>
<rect x="575" y="654.8" width="34.3" height="14.4" fill="#fff"/><text x="576.6" y="668.3" font-size="14.3" class="t" textLength="31" lengthAdjust="spacingAndGlyphs">5840</text>
<rect x="623.5" y="727.3" width="34.3" height="14.4" fill="#fff"/><text x="625.1" y="740.8" font-size="14.3" class="t" textLength="31" lengthAdjust="spacingAndGlyphs">5840</text>
<rect x="889" y="239" width="34.3" height="14.4" fill="#fff"/><text x="890.6" y="252.5" font-size="14.3" class="t" textLength="31" lengthAdjust="spacingAndGlyphs">5280</text>
<rect x="913.9" y="257.6" width="34.3" height="14.4" fill="#fff"/><text x="915.5" y="271.1" font-size="14.3" class="t" textLength="31" lengthAdjust="spacingAndGlyphs">5360</text>
<rect x="865.7" y="272.3" width="34.3" height="14.4" fill="#fff"/><text x="867.3000000000001" y="285.8" font-size="14.3" class="t" textLength="31" lengthAdjust="spacingAndGlyphs">5440</text>
<rect x="769" y="347.1" width="34.3" height="14.4" fill="#fff"/><text x="770.6" y="360.6" font-size="14.3" class="t" textLength="31" lengthAdjust="spacingAndGlyphs">5520</text>
<rect x="769" y="358.4" width="34.3" height="14.4" fill="#fff"/><text x="770.6" y="371.9" font-size="14.3" class="t" textLength="31" lengthAdjust="spacingAndGlyphs">5600</text>
<rect x="769" y="370.9" width="34.3" height="14.4" fill="#fff"/><text x="770.6" y="384.4" font-size="14.3" class="t" textLength="31" lengthAdjust="spacingAndGlyphs">5680</text>
<rect x="769" y="383.2" width="34.3" height="14.4" fill="#fff"/><text x="770.6" y="396.7" font-size="14.3" class="t" textLength="31" lengthAdjust="spacingAndGlyphs">5760</text>
<rect x="926" y="399" width="34.3" height="14.4" fill="#fff"/><text x="927.6" y="412.5" font-size="14.3" class="t" textLength="31" lengthAdjust="spacingAndGlyphs">5920</text>
<path d="M604.0,105V743M169,627.0H1039" stroke="#000" stroke-width="2" fill="none"/>
<rect x="697" y="106.5" width="340.5" height="24" fill="#fff"/>
<text x="722" y="121.8" font-size="15.4" textLength="311" lengthAdjust="spacing" xml:space="preserve" class="t">NOAA/ESRL  Physical  Sciences  Division</text>
<rect x="169" y="105" width="870" height="638" fill="none" stroke="#000" stroke-width="2"/>
<path d="M165,105.0H169M165,163.0H169M165,221.0H169M165,279.0H169M165,337.0H169M165,395.0H169M165,453.0H169M165,511.0H169M165,569.0H169M165,627.0H169M165,685.0H169M165,743.0H169M169.0,743V748M265.6666666666667,743V748M362.33333333333337,743V748M459.0,743V748M555.6666666666667,743V748M652.3333333333333,743V748M749.0,743V748M845.6666666666666,743V748M942.3333333333334,743V748M1039.0,743V748" stroke="#000" stroke-width="1.3" fill="none"/>
<text x="160" y="111.4" font-size="17" text-anchor="end" textLength="25" lengthAdjust="spacingAndGlyphs" class="t">90N</text>
<text x="160" y="169.4" font-size="17" text-anchor="end" textLength="25" lengthAdjust="spacingAndGlyphs" class="t">80N</text>
<text x="160" y="227.4" font-size="17" text-anchor="end" textLength="25" lengthAdjust="spacingAndGlyphs" class="t">70N</text>
<text x="160" y="285.4" font-size="17" text-anchor="end" textLength="25" lengthAdjust="spacingAndGlyphs" class="t">60N</text>
<text x="160" y="343.4" font-size="17" text-anchor="end" textLength="25" lengthAdjust="spacingAndGlyphs" class="t">50N</text>
<text x="160" y="401.4" font-size="17" text-anchor="end" textLength="25" lengthAdjust="spacingAndGlyphs" class="t">40N</text>
<text x="160" y="459.4" font-size="17" text-anchor="end" textLength="25" lengthAdjust="spacingAndGlyphs" class="t">30N</text>
<text x="160" y="517.4" font-size="17" text-anchor="end" textLength="25" lengthAdjust="spacingAndGlyphs" class="t">20N</text>
<text x="160" y="575.4" font-size="17" text-anchor="end" textLength="25" lengthAdjust="spacingAndGlyphs" class="t">10N</text>
<text x="160" y="633.4" font-size="17" text-anchor="end" textLength="17.2" lengthAdjust="spacingAndGlyphs" class="t">EQ</text>
<text x="160" y="691.4" font-size="17" text-anchor="end" textLength="25" lengthAdjust="spacingAndGlyphs" class="t">10S</text>
<text x="160" y="749.4" font-size="17" text-anchor="end" textLength="25" lengthAdjust="spacingAndGlyphs" class="t">20S</text>
<text x="169.0" y="763.5" font-size="16.8" text-anchor="middle" textLength="7.2" lengthAdjust="spacingAndGlyphs" class="t">0</text>
<text x="265.7" y="763.5" font-size="16.8" text-anchor="middle" textLength="24.6" lengthAdjust="spacingAndGlyphs" class="t">20E</text>
<text x="362.3" y="763.5" font-size="16.8" text-anchor="middle" textLength="24.6" lengthAdjust="spacingAndGlyphs" class="t">40E</text>
<text x="459.0" y="763.5" font-size="16.8" text-anchor="middle" textLength="24.6" lengthAdjust="spacingAndGlyphs" class="t">60E</text>
<text x="555.7" y="763.5" font-size="16.8" text-anchor="middle" textLength="24.6" lengthAdjust="spacingAndGlyphs" class="t">80E</text>
<text x="652.3" y="763.5" font-size="16.8" text-anchor="middle" textLength="33" lengthAdjust="spacingAndGlyphs" class="t">100E</text>
<text x="749.0" y="763.5" font-size="16.8" text-anchor="middle" textLength="33" lengthAdjust="spacingAndGlyphs" class="t">120E</text>
<text x="845.7" y="763.5" font-size="16.8" text-anchor="middle" textLength="33" lengthAdjust="spacingAndGlyphs" class="t">140E</text>
<text x="942.3" y="763.5" font-size="16.8" text-anchor="middle" textLength="33" lengthAdjust="spacingAndGlyphs" class="t">160E</text>
<text x="1039.0" y="763.5" font-size="16.8" text-anchor="middle" textLength="24.6" lengthAdjust="spacingAndGlyphs" class="t">180</text>
<path d="M140.3,809.5L113.5,819.0L140.3,828.5Z" fill="rgb(75,0,75)" stroke="#000" stroke-width="2"/>
<path d="M988.6,809.5L1017.5,819.0L988.6,828.5Z" fill="rgb(200,0,0)" stroke="#000" stroke-width="2"/>
<rect x="140.30" y="809.5" width="28.28" height="19.0" fill="rgb(75, 0, 75)" stroke="#000" stroke-width="2"/>
<rect x="168.58" y="809.5" width="28.28" height="19.0" fill="rgb(120, 0, 120)" stroke="#000" stroke-width="2"/>
<rect x="196.85" y="809.5" width="28.28" height="19.0" fill="rgb(145, 0, 145)" stroke="#000" stroke-width="2"/>
<rect x="225.13" y="809.5" width="28.28" height="19.0" fill="rgb(175, 0, 175)" stroke="#000" stroke-width="2"/>
<rect x="253.41" y="809.5" width="28.28" height="19.0" fill="rgb(205, 0, 205)" stroke="#000" stroke-width="2"/>
<rect x="281.68" y="809.5" width="28.28" height="19.0" fill="rgb(160, 0, 205)" stroke="#000" stroke-width="2"/>
<rect x="309.96" y="809.5" width="28.28" height="19.0" fill="rgb(130, 0, 220)" stroke="#000" stroke-width="2"/>
<rect x="338.24" y="809.5" width="28.28" height="19.0" fill="rgb(110, 0, 220)" stroke="#000" stroke-width="2"/>
<rect x="366.51" y="809.5" width="28.28" height="19.0" fill="rgb(50, 0, 220)" stroke="#000" stroke-width="2"/>
<rect x="394.79" y="809.5" width="28.28" height="19.0" fill="rgb(0, 40, 220)" stroke="#000" stroke-width="2"/>
<rect x="423.07" y="809.5" width="28.28" height="19.0" fill="rgb(0, 96, 200)" stroke="#000" stroke-width="2"/>
<rect x="451.34" y="809.5" width="28.28" height="19.0" fill="rgb(0, 150, 220)" stroke="#000" stroke-width="2"/>
<rect x="479.62" y="809.5" width="28.28" height="19.0" fill="rgb(0, 195, 235)" stroke="#000" stroke-width="2"/>
<rect x="507.90" y="809.5" width="28.28" height="19.0" fill="rgb(0, 255, 255)" stroke="#000" stroke-width="2"/>
<rect x="536.17" y="809.5" width="28.28" height="19.0" fill="rgb(0, 250, 160)" stroke="#000" stroke-width="2"/>
<rect x="564.45" y="809.5" width="28.28" height="19.0" fill="rgb(0, 240, 130)" stroke="#000" stroke-width="2"/>
<rect x="592.73" y="809.5" width="28.28" height="19.0" fill="rgb(0, 210, 30)" stroke="#000" stroke-width="2"/>
<rect x="621.00" y="809.5" width="28.28" height="19.0" fill="rgb(100, 225, 0)" stroke="#000" stroke-width="2"/>
<rect x="649.28" y="809.5" width="28.28" height="19.0" fill="rgb(150, 225, 0)" stroke="#000" stroke-width="2"/>
<rect x="677.56" y="809.5" width="28.28" height="19.0" fill="rgb(200, 225, 0)" stroke="#000" stroke-width="2"/>
<rect x="705.83" y="809.5" width="28.28" height="19.0" fill="rgb(225, 220, 0)" stroke="#000" stroke-width="2"/>
<rect x="734.11" y="809.5" width="28.28" height="19.0" fill="rgb(255, 215, 0)" stroke="#000" stroke-width="2"/>
<rect x="762.39" y="809.5" width="28.28" height="19.0" fill="rgb(255, 250, 0)" stroke="#000" stroke-width="2"/>
<rect x="790.66" y="809.5" width="28.28" height="19.0" fill="rgb(255, 222, 0)" stroke="#000" stroke-width="2"/>
<rect x="818.94" y="809.5" width="28.28" height="19.0" fill="rgb(255, 195, 0)" stroke="#000" stroke-width="2"/>
<rect x="847.22" y="809.5" width="28.28" height="19.0" fill="rgb(255, 165, 0)" stroke="#000" stroke-width="2"/>
<rect x="875.49" y="809.5" width="28.28" height="19.0" fill="rgb(255, 140, 0)" stroke="#000" stroke-width="2"/>
<rect x="903.77" y="809.5" width="28.28" height="19.0" fill="rgb(255, 100, 0)" stroke="#000" stroke-width="2"/>
<rect x="932.05" y="809.5" width="28.28" height="19.0" fill="rgb(255, 50, 0)" stroke="#000" stroke-width="2"/>
<rect x="960.32" y="809.5" width="28.28" height="19.0" fill="rgb(255, 0, 0)" stroke="#000" stroke-width="2"/>
<text x="140.3" y="848.5" font-size="19" text-anchor="middle" textLength="46.4" lengthAdjust="spacing" class="t">4800</text>
<text x="196.9" y="848.5" font-size="19" text-anchor="middle" textLength="46.4" lengthAdjust="spacing" class="t">4880</text>
<text x="253.4" y="848.5" font-size="19" text-anchor="middle" textLength="46.4" lengthAdjust="spacing" class="t">4960</text>
<text x="310.0" y="848.5" font-size="19" text-anchor="middle" textLength="46.4" lengthAdjust="spacing" class="t">5040</text>
<text x="366.5" y="848.5" font-size="19" text-anchor="middle" textLength="46.4" lengthAdjust="spacing" class="t">5120</text>
<text x="423.1" y="848.5" font-size="19" text-anchor="middle" textLength="46.4" lengthAdjust="spacing" class="t">5200</text>
<text x="479.6" y="848.5" font-size="19" text-anchor="middle" textLength="46.4" lengthAdjust="spacing" class="t">5280</text>
<text x="536.2" y="848.5" font-size="19" text-anchor="middle" textLength="46.4" lengthAdjust="spacing" class="t">5360</text>
<text x="592.7" y="848.5" font-size="19" text-anchor="middle" textLength="46.4" lengthAdjust="spacing" class="t">5440</text>
<text x="649.3" y="848.5" font-size="19" text-anchor="middle" textLength="46.4" lengthAdjust="spacing" class="t">5520</text>
<text x="705.8" y="848.5" font-size="19" text-anchor="middle" textLength="46.4" lengthAdjust="spacing" class="t">5600</text>
<text x="762.4" y="848.5" font-size="19" text-anchor="middle" textLength="46.4" lengthAdjust="spacing" class="t">5680</text>
<text x="818.9" y="848.5" font-size="19" text-anchor="middle" textLength="46.4" lengthAdjust="spacing" class="t">5760</text>
<text x="875.5" y="848.5" font-size="19" text-anchor="middle" textLength="46.4" lengthAdjust="spacing" class="t">5840</text>
<text x="932.0" y="848.5" font-size="19" text-anchor="middle" textLength="46.4" lengthAdjust="spacing" class="t">5920</text>
<text x="988.6" y="848.5" font-size="19" text-anchor="middle" textLength="46.4" lengthAdjust="spacing" class="t">6000</text>
<text x="346" y="791.9" font-size="20.3" textLength="516.6" lengthAdjust="spacing" xml:space="preserve" class="t">500mb  Geopotential  Heights  (m)     Composite  Mean</text>
<text x="445" y="812.5" font-size="20" textLength="318.5" lengthAdjust="spacing" xml:space="preserve">9/16/99  12z   to   9/16/99  12z</text>
<text x="494.5" y="843.2" font-size="19.2" textLength="223" lengthAdjust="spacing" xml:space="preserve" class="t2">NCEP/NCAR  Reanalysis</text>
</svg>
</body></html>
